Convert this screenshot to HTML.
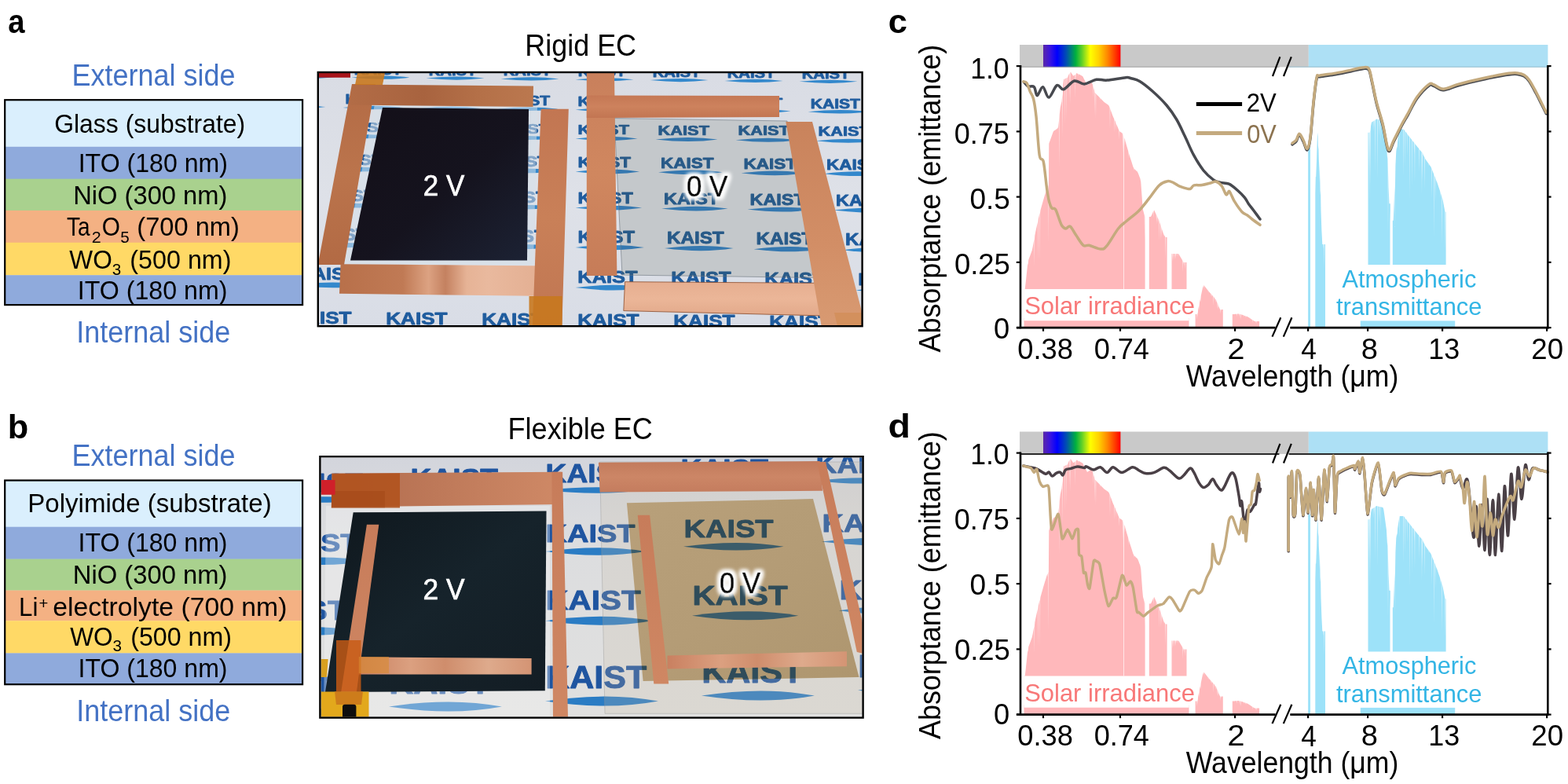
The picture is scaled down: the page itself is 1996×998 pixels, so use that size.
<!DOCTYPE html>
<html><head><meta charset="utf-8"><title>Electrochromic device figure</title>
<style>html,body{margin:0;padding:0;background:#fff;}svg{display:block;}
text{font-family:"Liberation Sans",sans-serif;}</style></head>
<body><svg width="1996" height="998" viewBox="0 0 1996 998">
<defs><clipPath id="cpa"><rect x="406.0" y="92.8" width="691.0" height="321.8"/></clipPath><linearGradient id="paperA" gradientUnits="userSpaceOnUse" x1="0" y1="92.8" x2="0" y2="414.6"><stop offset="0" stop-color="#d9dce4"/><stop offset="0.5" stop-color="#dee1e8"/><stop offset="1" stop-color="#d9dde6"/></linearGradient><linearGradient id="paperB" x1="0" y1="0" x2="0" y2="1"><stop offset="0" stop-color="#d3d5dc"/><stop offset="0.3" stop-color="#dcdddf"/><stop offset="1" stop-color="#e0e0df"/></linearGradient><linearGradient id="cuA" x1="0" y1="0" x2="1" y2="1"><stop offset="0" stop-color="#c9825a"/><stop offset="0.5" stop-color="#d4916a"/><stop offset="1" stop-color="#c47c55"/></linearGradient><linearGradient id="cuB" x1="0" y1="0" x2="1" y2="0"><stop offset="0" stop-color="#d39472"/><stop offset="0.3" stop-color="#e2aa8a"/><stop offset="0.5" stop-color="#d08a66"/><stop offset="0.75" stop-color="#dca080"/><stop offset="1" stop-color="#c98560"/></linearGradient><linearGradient id="cuV" x1="0" y1="0" x2="0" y2="1"><stop offset="0" stop-color="#c27a52"/><stop offset="0.5" stop-color="#cf8c66"/><stop offset="1" stop-color="#c47e58"/></linearGradient><linearGradient id="darkA" x1="0" y1="0" x2="1" y2="1"><stop offset="0" stop-color="#130f18"/><stop offset="0.55" stop-color="#15131e"/><stop offset="1" stop-color="#1c2234"/></linearGradient><linearGradient id="cuTop" x1="0" y1="0" x2="1" y2="0"><stop offset="0" stop-color="#b26c46"/><stop offset="0.4" stop-color="#a8633f"/><stop offset="0.7" stop-color="#b47048"/><stop offset="1" stop-color="#bb784f"/></linearGradient><linearGradient id="cuL" x1="0" y1="0" x2="0" y2="1"><stop offset="0" stop-color="#b36b45"/><stop offset="0.5" stop-color="#bb744c"/><stop offset="1" stop-color="#b26a44"/></linearGradient><linearGradient id="cuBot" x1="0" y1="0" x2="1" y2="0"><stop offset="0" stop-color="#b8704a"/><stop offset="0.3" stop-color="#c07a55"/><stop offset="0.42" stop-color="#dca282"/><stop offset="0.5" stop-color="#c48160"/><stop offset="0.6" stop-color="#e6b396"/><stop offset="0.7" stop-color="#e9b99e"/><stop offset="1" stop-color="#e2ad90"/></linearGradient><linearGradient id="cuRV" x1="0" y1="0" x2="0" y2="1"><stop offset="0" stop-color="#c27652"/><stop offset="0.5" stop-color="#c98058"/><stop offset="1" stop-color="#c07652"/></linearGradient><linearGradient id="cuRL" x1="0" y1="0" x2="0" y2="1"><stop offset="0" stop-color="#c9805c"/><stop offset="0.5" stop-color="#d0875f"/><stop offset="1" stop-color="#c67c58"/></linearGradient><linearGradient id="cuRT" x1="0" y1="0" x2="0" y2="1"><stop offset="0" stop-color="#c57855"/><stop offset="0.5" stop-color="#cd825d"/><stop offset="1" stop-color="#c27552"/></linearGradient><linearGradient id="cuRB" x1="0" y1="0" x2="0" y2="1"><stop offset="0" stop-color="#e6ae90"/><stop offset="0.5" stop-color="#ebb698"/><stop offset="1" stop-color="#e2a98a"/></linearGradient><linearGradient id="cuRS" x1="0" y1="0" x2="0" y2="1"><stop offset="0" stop-color="#c9835c"/><stop offset="0.6" stop-color="#d28e66"/><stop offset="1" stop-color="#d89a72"/></linearGradient><linearGradient id="cuBT" x1="0" y1="0" x2="1" y2="0"><stop offset="0" stop-color="#b06a4c"/><stop offset="0.5" stop-color="#bf7a5a"/><stop offset="1" stop-color="#cf8966"/></linearGradient><linearGradient id="cuBT2" x1="0" y1="0" x2="0" y2="1"><stop offset="0" stop-color="#c27a5c"/><stop offset="0.5" stop-color="#cc8666"/><stop offset="1" stop-color="#c47c5e"/></linearGradient><linearGradient id="cuBV" x1="0" y1="0" x2="0" y2="1"><stop offset="0" stop-color="#c77c5a"/><stop offset="1" stop-color="#cf8763"/></linearGradient><linearGradient id="cuBB" x1="0" y1="0" x2="1" y2="0"><stop offset="0" stop-color="#c98060"/><stop offset="0.3" stop-color="#dba080"/><stop offset="0.5" stop-color="#cf8d6c"/><stop offset="0.75" stop-color="#deaa8c"/><stop offset="1" stop-color="#d49474"/></linearGradient><filter id="glow" x="-30%" y="-30%" width="160%" height="160%"><feMorphology in="SourceAlpha" operator="dilate" radius="3.2" result="d"/><feGaussianBlur in="d" stdDeviation="2.6" result="b"/><feFlood flood-color="#fff"/><feComposite in2="b" operator="in" result="w"/><feMerge><feMergeNode in="w"/><feMergeNode in="w"/><feMergeNode in="SourceGraphic"/></feMerge></filter><clipPath id="cpgl"><polygon points="782.0,150.5 1002.0,154.0 1044.0,353.6 792.0,350.0"/></clipPath><clipPath id="cpb"><rect x="408.6" y="582.4" width="688.9999999999999" height="330.0"/></clipPath><clipPath id="cptan"><polygon points="797.9,640.3 1035.0,635.1 1093.5,862.0 818.6,867.1"/></clipPath><linearGradient id="tanG" x1="0" y1="0" x2="1" y2="1"><stop offset="0" stop-color="#b8a07a"/><stop offset="0.5" stop-color="#b49c76"/><stop offset="1" stop-color="#ae966f"/></linearGradient><linearGradient id="darkB" x1="0" y1="0" x2="1" y2="1"><stop offset="0" stop-color="#0f171d"/><stop offset="0.5" stop-color="#16232b"/><stop offset="1" stop-color="#131d24"/></linearGradient><linearGradient id="cuH" x1="0" y1="0" x2="0" y2="1"><stop offset="0" stop-color="#d8946e"/><stop offset="0.5" stop-color="#e0a080"/><stop offset="1" stop-color="#c9845e"/></linearGradient><linearGradient id="spec" x1="0" y1="0" x2="1" y2="0"><stop offset="0" stop-color="#5a28a8"/><stop offset="0.09" stop-color="#3a14e0"/><stop offset="0.18" stop-color="#0000ff"/><stop offset="0.3" stop-color="#0050b0"/><stop offset="0.36" stop-color="#00807a"/><stop offset="0.42" stop-color="#00b040"/><stop offset="0.5" stop-color="#60d028"/><stop offset="0.61" stop-color="#ffff00"/><stop offset="0.72" stop-color="#ffd000"/><stop offset="0.83" stop-color="#ff8800"/><stop offset="0.93" stop-color="#ff3a00"/><stop offset="1" stop-color="#ff0000"/></linearGradient></defs>
<rect width="1996" height="998" fill="#fff"/>
<text x="10.25" y="41.50" font-size="43.4" font-weight="bold" fill="#000" textLength="21.31" lengthAdjust="spacingAndGlyphs">a</text>
<text x="9.78" y="557.50" font-size="43.4" font-weight="bold" fill="#000" textLength="26.49" lengthAdjust="spacingAndGlyphs">b</text>
<text x="1130.86" y="41.80" font-size="42.5" font-weight="bold" fill="#000" textLength="24.20" lengthAdjust="spacingAndGlyphs">c</text>
<text x="1130.64" y="557.00" font-size="43.4" font-weight="bold" fill="#000" textLength="28.43" lengthAdjust="spacingAndGlyphs">d</text>
<rect x="6.2" y="127.2" width="378.9" height="59.9" fill="#DAEFFD"/>
<rect x="6.2" y="186.8" width="378.9" height="41.2" fill="#8FAADC"/>
<rect x="6.2" y="227.7" width="378.9" height="40.5" fill="#A9D18E"/>
<rect x="6.2" y="267.9" width="378.9" height="41.2" fill="#F4B183"/>
<rect x="6.2" y="308.8" width="378.9" height="41.7" fill="#FFD966"/>
<rect x="6.2" y="350.2" width="378.9" height="38.2" fill="#8FAADC"/>
<rect x="6.2" y="127.2" width="378.9" height="260.9" fill="none" stroke="#000" stroke-width="2.2"/>
<text x="91.52" y="108.90" font-size="38.4" fill="#4472C4" textLength="208.13" lengthAdjust="spacingAndGlyphs">External side</text>
<text x="97.16" y="435.90" font-size="38.4" fill="#4472C4" textLength="196.17" lengthAdjust="spacingAndGlyphs">Internal side</text>
<text x="69.20" y="169.20" font-size="33.0" fill="#000" textLength="243.02" lengthAdjust="spacingAndGlyphs">Glass (substrate)</text>
<text x="99.71" y="219.30" font-size="33.0" fill="#000" textLength="190.21" lengthAdjust="spacingAndGlyphs">ITO (180 nm)</text>
<text x="93.18" y="259.90" font-size="33.0" fill="#000" textLength="196.23" lengthAdjust="spacingAndGlyphs">NiO (300 nm)</text>
<text x="84.94" y="300.20" font-size="33.0" fill="#000" textLength="29.59" lengthAdjust="spacingAndGlyphs">Ta</text>
<text x="116.82" y="308.80" font-size="21" fill="#000" textLength="11.98" lengthAdjust="spacingAndGlyphs">2</text>
<text x="129.76" y="300.20" font-size="33.0" fill="#000" textLength="23.16" lengthAdjust="spacingAndGlyphs">O</text>
<text x="153.27" y="308.80" font-size="21" fill="#000" textLength="11.47" lengthAdjust="spacingAndGlyphs">5</text>
<text x="174.34" y="300.20" font-size="33.0" fill="#000" textLength="130.47" lengthAdjust="spacingAndGlyphs">(700 nm)</text>
<text x="88.34" y="341.80" font-size="33.0" fill="#000" textLength="54.43" lengthAdjust="spacingAndGlyphs">WO</text>
<text x="142.67" y="349.60" font-size="21" fill="#000" textLength="11.47" lengthAdjust="spacingAndGlyphs">3</text>
<text x="165.36" y="341.80" font-size="33.0" fill="#000" textLength="129.13" lengthAdjust="spacingAndGlyphs">(500 nm)</text>
<text x="98.81" y="381.40" font-size="33.0" fill="#000" textLength="190.62" lengthAdjust="spacingAndGlyphs">ITO (180 nm)</text>
<rect x="6.2" y="611.5" width="378.9" height="59.5" fill="#DAEFFD"/>
<rect x="6.2" y="670.7" width="378.9" height="41.2" fill="#8FAADC"/>
<rect x="6.2" y="711.6" width="378.9" height="40.2" fill="#A9D18E"/>
<rect x="6.2" y="751.5" width="378.9" height="39.0" fill="#F4B183"/>
<rect x="6.2" y="790.2" width="378.9" height="41.5" fill="#FFD966"/>
<rect x="6.2" y="831.4" width="378.9" height="40.1" fill="#8FAADC"/>
<rect x="6.2" y="611.5" width="378.9" height="259.7" fill="none" stroke="#000" stroke-width="2.2"/>
<text x="91.52" y="593.10" font-size="38.4" fill="#4472C4" textLength="208.13" lengthAdjust="spacingAndGlyphs">External side</text>
<text x="97.16" y="918.30" font-size="38.4" fill="#4472C4" textLength="196.17" lengthAdjust="spacingAndGlyphs">Internal side</text>
<text x="35.26" y="651.90" font-size="33.0" fill="#000" textLength="310.41" lengthAdjust="spacingAndGlyphs">Polyimide (substrate)</text>
<text x="99.52" y="702.40" font-size="33.0" fill="#000" textLength="190.00" lengthAdjust="spacingAndGlyphs">ITO (180 nm)</text>
<text x="92.78" y="743.10" font-size="33.0" fill="#000" textLength="196.74" lengthAdjust="spacingAndGlyphs">NiO (300 nm)</text>
<text x="24.10" y="783.70" font-size="33.0" fill="#000" textLength="24.34" lengthAdjust="spacingAndGlyphs">Li</text>
<text x="49.49" y="775.30" font-size="21" fill="#000" textLength="11.80" lengthAdjust="spacingAndGlyphs">+</text>
<text x="67.35" y="783.70" font-size="33.0" fill="#000" textLength="298.05" lengthAdjust="spacingAndGlyphs">electrolyte (700 nm)</text>
<text x="89.14" y="821.60" font-size="33.0" fill="#000" textLength="54.43" lengthAdjust="spacingAndGlyphs">WO</text>
<text x="143.47" y="829.40" font-size="21" fill="#000" textLength="11.47" lengthAdjust="spacingAndGlyphs">3</text>
<text x="166.17" y="821.60" font-size="33.0" fill="#000" textLength="128.92" lengthAdjust="spacingAndGlyphs">(500 nm)</text>
<text x="99.52" y="862.30" font-size="33.0" fill="#000" textLength="190.00" lengthAdjust="spacingAndGlyphs">ITO (180 nm)</text>
<text x="668.22" y="71.10" font-size="38.5" fill="#000" textLength="141.87" lengthAdjust="spacingAndGlyphs">Rigid EC</text>
<text x="646.62" y="559.10" font-size="38.2" fill="#000" textLength="184.15" lengthAdjust="spacingAndGlyphs">Flexible EC</text>
<g clip-path="url(#cpa)"><rect x="406.0" y="92.8" width="691.0" height="321.8" fill="url(#paperA)"/><text transform="translate(355.7,93.9) scale(0.2030,0.1634)" font-size="100" font-weight="bold" fill="#1f5c9e" stroke="#1f5c9e" stroke-width="0.9" vector-effect="non-scaling-stroke" stroke-linejoin="round">KAIST</text><path d="M352.5,97.9 Q393.2,93.6 426.5,97.9 Q393.2,102.1 352.5,97.9Z" fill="#3388cc"/><text transform="translate(450.7,94.7) scale(0.2030,0.1634)" font-size="100" font-weight="bold" fill="#1f5c9e" stroke="#1f5c9e" stroke-width="0.9" vector-effect="non-scaling-stroke" stroke-linejoin="round">KAIST</text><path d="M447.5,98.7 Q488.2,94.5 521.5,98.7 Q488.2,103.0 447.5,98.7Z" fill="#3388cc"/><text transform="translate(545.7,95.6) scale(0.2030,0.1634)" font-size="100" font-weight="bold" fill="#1f5c9e" stroke="#1f5c9e" stroke-width="0.9" vector-effect="non-scaling-stroke" stroke-linejoin="round">KAIST</text><path d="M542.5,99.6 Q583.2,95.3 616.5,99.6 Q583.2,103.8 542.5,99.6Z" fill="#3388cc"/><text transform="translate(640.7,96.4) scale(0.2030,0.1634)" font-size="100" font-weight="bold" fill="#1f5c9e" stroke="#1f5c9e" stroke-width="0.9" vector-effect="non-scaling-stroke" stroke-linejoin="round">KAIST</text><path d="M637.5,100.4 Q678.2,96.2 711.5,100.4 Q678.2,104.7 637.5,100.4Z" fill="#3388cc"/><text transform="translate(735.7,97.3) scale(0.2030,0.1634)" font-size="100" font-weight="bold" fill="#1f5c9e" stroke="#1f5c9e" stroke-width="0.9" vector-effect="non-scaling-stroke" stroke-linejoin="round">KAIST</text><path d="M732.5,101.3 Q773.2,97.0 806.5,101.3 Q773.2,105.5 732.5,101.3Z" fill="#3388cc"/><text transform="translate(830.7,98.1) scale(0.2030,0.1634)" font-size="100" font-weight="bold" fill="#1f5c9e" stroke="#1f5c9e" stroke-width="0.9" vector-effect="non-scaling-stroke" stroke-linejoin="round">KAIST</text><path d="M827.5,102.1 Q868.2,97.9 901.5,102.1 Q868.2,106.4 827.5,102.1Z" fill="#3388cc"/><text transform="translate(925.7,99.0) scale(0.2030,0.1634)" font-size="100" font-weight="bold" fill="#1f5c9e" stroke="#1f5c9e" stroke-width="0.9" vector-effect="non-scaling-stroke" stroke-linejoin="round">KAIST</text><path d="M922.5,103.0 Q963.2,98.7 996.5,103.0 Q963.2,107.2 922.5,103.0Z" fill="#3388cc"/><text transform="translate(1020.7,99.8) scale(0.2030,0.1634)" font-size="100" font-weight="bold" fill="#1f5c9e" stroke="#1f5c9e" stroke-width="0.9" vector-effect="non-scaling-stroke" stroke-linejoin="round">KAIST</text><path d="M1017.5,103.8 Q1058.2,99.6 1091.5,103.8 Q1058.2,108.1 1017.5,103.8Z" fill="#3388cc"/><text transform="translate(340.8,131.5) scale(0.2109,0.1620)" font-size="100" font-weight="bold" fill="#1f5c9e" stroke="#1f5c9e" stroke-width="0.9" vector-effect="non-scaling-stroke" stroke-linejoin="round">KAIST</text><path d="M337.7,136.1 Q379.9,131.6 414.4,136.1 Q379.9,140.6 337.7,136.1Z" fill="#3388cc"/><text transform="translate(439.5,132.4) scale(0.2109,0.1620)" font-size="100" font-weight="bold" fill="#1f5c9e" stroke="#1f5c9e" stroke-width="0.9" vector-effect="non-scaling-stroke" stroke-linejoin="round">KAIST</text><path d="M436.4,137.0 Q478.6,132.5 513.1,137.0 Q478.6,141.5 436.4,137.0Z" fill="#3388cc"/><text transform="translate(538.2,133.3) scale(0.2109,0.1620)" font-size="100" font-weight="bold" fill="#1f5c9e" stroke="#1f5c9e" stroke-width="0.9" vector-effect="non-scaling-stroke" stroke-linejoin="round">KAIST</text><path d="M535.1,137.9 Q577.3,133.4 611.8,137.9 Q577.3,142.4 535.1,137.9Z" fill="#3388cc"/><text transform="translate(636.9,134.2) scale(0.2109,0.1620)" font-size="100" font-weight="bold" fill="#1f5c9e" stroke="#1f5c9e" stroke-width="0.9" vector-effect="non-scaling-stroke" stroke-linejoin="round">KAIST</text><path d="M633.8,138.8 Q676.0,134.3 710.5,138.8 Q676.0,143.3 633.8,138.8Z" fill="#3388cc"/><text transform="translate(735.6,135.1) scale(0.2109,0.1620)" font-size="100" font-weight="bold" fill="#1f5c9e" stroke="#1f5c9e" stroke-width="0.9" vector-effect="non-scaling-stroke" stroke-linejoin="round">KAIST</text><path d="M732.5,139.7 Q774.7,135.2 809.2,139.7 Q774.7,144.2 732.5,139.7Z" fill="#3388cc"/><text transform="translate(834.3,136.0) scale(0.2109,0.1620)" font-size="100" font-weight="bold" fill="#1f5c9e" stroke="#1f5c9e" stroke-width="0.9" vector-effect="non-scaling-stroke" stroke-linejoin="round">KAIST</text><path d="M831.2,140.6 Q873.4,136.1 907.9,140.6 Q873.4,145.1 831.2,140.6Z" fill="#3388cc"/><text transform="translate(933.0,136.9) scale(0.2109,0.1620)" font-size="100" font-weight="bold" fill="#1f5c9e" stroke="#1f5c9e" stroke-width="0.9" vector-effect="non-scaling-stroke" stroke-linejoin="round">KAIST</text><path d="M929.9,141.5 Q972.1,137.0 1006.6,141.5 Q972.1,146.0 929.9,141.5Z" fill="#3388cc"/><text transform="translate(1031.7,137.7) scale(0.2109,0.1620)" font-size="100" font-weight="bold" fill="#1f5c9e" stroke="#1f5c9e" stroke-width="0.9" vector-effect="non-scaling-stroke" stroke-linejoin="round">KAIST</text><path d="M1028.6,142.3 Q1070.8,137.8 1105.3,142.3 Q1070.8,146.8 1028.6,142.3Z" fill="#3388cc"/><text transform="translate(429.6,167.8) scale(0.2179,0.1563)" font-size="100" font-weight="bold" fill="#1f5c9e" stroke="#1f5c9e" stroke-width="0.9" vector-effect="non-scaling-stroke" stroke-linejoin="round">KAIST</text><path d="M426.5,173.7 Q470.0,168.7 505.6,173.7 Q470.0,178.7 426.5,173.7Z" fill="#3388cc"/><text transform="translate(531.6,168.8) scale(0.2179,0.1563)" font-size="100" font-weight="bold" fill="#1f5c9e" stroke="#1f5c9e" stroke-width="0.9" vector-effect="non-scaling-stroke" stroke-linejoin="round">KAIST</text><path d="M528.5,174.7 Q572.0,169.7 607.6,174.7 Q572.0,179.7 528.5,174.7Z" fill="#3388cc"/><text transform="translate(633.6,169.7) scale(0.2179,0.1563)" font-size="100" font-weight="bold" fill="#1f5c9e" stroke="#1f5c9e" stroke-width="0.9" vector-effect="non-scaling-stroke" stroke-linejoin="round">KAIST</text><path d="M630.5,175.6 Q674.0,170.6 709.6,175.6 Q674.0,180.6 630.5,175.6Z" fill="#3388cc"/><text transform="translate(735.6,170.6) scale(0.2179,0.1563)" font-size="100" font-weight="bold" fill="#1f5c9e" stroke="#1f5c9e" stroke-width="0.9" vector-effect="non-scaling-stroke" stroke-linejoin="round">KAIST</text><path d="M732.5,176.5 Q776.0,171.5 811.6,176.5 Q776.0,181.5 732.5,176.5Z" fill="#3388cc"/><text transform="translate(837.6,171.5) scale(0.2179,0.1563)" font-size="100" font-weight="bold" fill="#1f5c9e" stroke="#1f5c9e" stroke-width="0.9" vector-effect="non-scaling-stroke" stroke-linejoin="round">KAIST</text><path d="M834.5,177.4 Q878.0,172.4 913.6,177.4 Q878.0,182.4 834.5,177.4Z" fill="#3388cc"/><text transform="translate(939.6,172.4) scale(0.2179,0.1563)" font-size="100" font-weight="bold" fill="#1f5c9e" stroke="#1f5c9e" stroke-width="0.9" vector-effect="non-scaling-stroke" stroke-linejoin="round">KAIST</text><path d="M936.5,178.3 Q980.0,173.3 1015.6,178.3 Q980.0,183.3 936.5,178.3Z" fill="#3388cc"/><text transform="translate(1041.6,173.3) scale(0.2179,0.1563)" font-size="100" font-weight="bold" fill="#1f5c9e" stroke="#1f5c9e" stroke-width="0.9" vector-effect="non-scaling-stroke" stroke-linejoin="round">KAIST</text><path d="M1038.5,179.2 Q1082.0,174.2 1117.6,179.2 Q1082.0,184.2 1038.5,179.2Z" fill="#3388cc"/><text transform="translate(419.0,210.1) scale(0.2254,0.1831)" font-size="100" font-weight="bold" fill="#1f5c9e" stroke="#1f5c9e" stroke-width="0.9" vector-effect="non-scaling-stroke" stroke-linejoin="round">KAIST</text><path d="M416.0,215.6 Q460.9,209.8 497.6,215.6 Q460.9,221.3 416.0,215.6Z" fill="#3388cc"/><text transform="translate(524.5,211.0) scale(0.2254,0.1831)" font-size="100" font-weight="bold" fill="#1f5c9e" stroke="#1f5c9e" stroke-width="0.9" vector-effect="non-scaling-stroke" stroke-linejoin="round">KAIST</text><path d="M521.5,216.5 Q566.4,210.8 603.1,216.5 Q566.4,222.3 521.5,216.5Z" fill="#3388cc"/><text transform="translate(630.0,212.0) scale(0.2254,0.1831)" font-size="100" font-weight="bold" fill="#1f5c9e" stroke="#1f5c9e" stroke-width="0.9" vector-effect="non-scaling-stroke" stroke-linejoin="round">KAIST</text><path d="M627.0,217.5 Q671.9,211.7 708.6,217.5 Q671.9,223.2 627.0,217.5Z" fill="#3388cc"/><text transform="translate(735.5,212.9) scale(0.2254,0.1831)" font-size="100" font-weight="bold" fill="#1f5c9e" stroke="#1f5c9e" stroke-width="0.9" vector-effect="non-scaling-stroke" stroke-linejoin="round">KAIST</text><path d="M732.5,218.4 Q777.4,212.6 814.1,218.4 Q777.4,224.1 732.5,218.4Z" fill="#3388cc"/><text transform="translate(841.0,213.8) scale(0.2254,0.1831)" font-size="100" font-weight="bold" fill="#1f5c9e" stroke="#1f5c9e" stroke-width="0.9" vector-effect="non-scaling-stroke" stroke-linejoin="round">KAIST</text><path d="M838.0,219.3 Q882.9,213.6 919.6,219.3 Q882.9,225.1 838.0,219.3Z" fill="#3388cc"/><text transform="translate(946.5,214.8) scale(0.2254,0.1831)" font-size="100" font-weight="bold" fill="#1f5c9e" stroke="#1f5c9e" stroke-width="0.9" vector-effect="non-scaling-stroke" stroke-linejoin="round">KAIST</text><path d="M943.5,220.3 Q988.4,214.5 1025.1,220.3 Q988.4,226.0 943.5,220.3Z" fill="#3388cc"/><text transform="translate(1052.0,215.7) scale(0.2254,0.1831)" font-size="100" font-weight="bold" fill="#1f5c9e" stroke="#1f5c9e" stroke-width="0.9" vector-effect="non-scaling-stroke" stroke-linejoin="round">KAIST</text><path d="M1049.0,221.2 Q1093.9,215.5 1130.6,221.2 Q1093.9,227.0 1049.0,221.2Z" fill="#3388cc"/><text transform="translate(407.0,256.2) scale(0.2340,0.2014)" font-size="100" font-weight="bold" fill="#1f5c9e" stroke="#1f5c9e" stroke-width="0.9" vector-effect="non-scaling-stroke" stroke-linejoin="round">KAIST</text><path d="M404.0,261.7 Q450.5,255.8 488.6,261.7 Q450.5,267.5 404.0,261.7Z" fill="#3388cc"/><text transform="translate(516.5,257.1) scale(0.2340,0.2014)" font-size="100" font-weight="bold" fill="#1f5c9e" stroke="#1f5c9e" stroke-width="0.9" vector-effect="non-scaling-stroke" stroke-linejoin="round">KAIST</text><path d="M513.5,262.6 Q560.0,256.8 598.1,262.6 Q560.0,268.5 513.5,262.6Z" fill="#3388cc"/><text transform="translate(626.0,258.1) scale(0.2340,0.2014)" font-size="100" font-weight="bold" fill="#1f5c9e" stroke="#1f5c9e" stroke-width="0.9" vector-effect="non-scaling-stroke" stroke-linejoin="round">KAIST</text><path d="M623.0,263.6 Q669.5,257.8 707.6,263.6 Q669.5,269.5 623.0,263.6Z" fill="#3388cc"/><text transform="translate(735.5,259.1) scale(0.2340,0.2014)" font-size="100" font-weight="bold" fill="#1f5c9e" stroke="#1f5c9e" stroke-width="0.9" vector-effect="non-scaling-stroke" stroke-linejoin="round">KAIST</text><path d="M732.5,264.6 Q779.0,258.7 817.1,264.6 Q779.0,270.5 732.5,264.6Z" fill="#3388cc"/><text transform="translate(845.0,260.1) scale(0.2340,0.2014)" font-size="100" font-weight="bold" fill="#1f5c9e" stroke="#1f5c9e" stroke-width="0.9" vector-effect="non-scaling-stroke" stroke-linejoin="round">KAIST</text><path d="M842.0,265.6 Q888.5,259.7 926.6,265.6 Q888.5,271.5 842.0,265.6Z" fill="#3388cc"/><text transform="translate(954.5,261.1) scale(0.2340,0.2014)" font-size="100" font-weight="bold" fill="#1f5c9e" stroke="#1f5c9e" stroke-width="0.9" vector-effect="non-scaling-stroke" stroke-linejoin="round">KAIST</text><path d="M951.5,266.6 Q998.0,260.7 1036.1,266.6 Q998.0,272.5 951.5,266.6Z" fill="#3388cc"/><text transform="translate(1064.0,262.1) scale(0.2340,0.2014)" font-size="100" font-weight="bold" fill="#1f5c9e" stroke="#1f5c9e" stroke-width="0.9" vector-effect="non-scaling-stroke" stroke-linejoin="round">KAIST</text><path d="M1061.0,267.6 Q1107.5,261.7 1145.6,267.6 Q1107.5,273.4 1061.0,267.6Z" fill="#3388cc"/><text transform="translate(394.9,305.6) scale(0.2425,0.2183)" font-size="100" font-weight="bold" fill="#1f5c9e" stroke="#1f5c9e" stroke-width="0.9" vector-effect="non-scaling-stroke" stroke-linejoin="round">KAIST</text><path d="M392.0,312.1 Q440.1,305.8 479.5,312.1 Q440.1,318.3 392.0,312.1Z" fill="#3388cc"/><text transform="translate(508.4,306.6) scale(0.2425,0.2183)" font-size="100" font-weight="bold" fill="#1f5c9e" stroke="#1f5c9e" stroke-width="0.9" vector-effect="non-scaling-stroke" stroke-linejoin="round">KAIST</text><path d="M505.5,313.1 Q553.6,306.8 593.0,313.1 Q553.6,319.3 505.5,313.1Z" fill="#3388cc"/><text transform="translate(621.9,307.6) scale(0.2425,0.2183)" font-size="100" font-weight="bold" fill="#1f5c9e" stroke="#1f5c9e" stroke-width="0.9" vector-effect="non-scaling-stroke" stroke-linejoin="round">KAIST</text><path d="M619.0,314.1 Q667.1,307.9 706.5,314.1 Q667.1,320.4 619.0,314.1Z" fill="#3388cc"/><text transform="translate(735.4,308.6) scale(0.2425,0.2183)" font-size="100" font-weight="bold" fill="#1f5c9e" stroke="#1f5c9e" stroke-width="0.9" vector-effect="non-scaling-stroke" stroke-linejoin="round">KAIST</text><path d="M732.5,315.1 Q780.6,308.9 820.0,315.1 Q780.6,321.4 732.5,315.1Z" fill="#3388cc"/><text transform="translate(848.9,309.6) scale(0.2425,0.2183)" font-size="100" font-weight="bold" fill="#1f5c9e" stroke="#1f5c9e" stroke-width="0.9" vector-effect="non-scaling-stroke" stroke-linejoin="round">KAIST</text><path d="M846.0,316.1 Q894.1,309.9 933.5,316.1 Q894.1,322.4 846.0,316.1Z" fill="#3388cc"/><text transform="translate(962.4,310.7) scale(0.2425,0.2183)" font-size="100" font-weight="bold" fill="#1f5c9e" stroke="#1f5c9e" stroke-width="0.9" vector-effect="non-scaling-stroke" stroke-linejoin="round">KAIST</text><path d="M959.5,317.2 Q1007.6,310.9 1047.0,317.2 Q1007.6,323.4 959.5,317.2Z" fill="#3388cc"/><text transform="translate(1075.9,311.7) scale(0.2425,0.2183)" font-size="100" font-weight="bold" fill="#1f5c9e" stroke="#1f5c9e" stroke-width="0.9" vector-effect="non-scaling-stroke" stroke-linejoin="round">KAIST</text><path d="M1073.0,318.2 Q1121.1,311.9 1160.5,318.2 Q1121.1,324.4 1073.0,318.2Z" fill="#3388cc"/><text transform="translate(378.3,356.3) scale(0.2543,0.2141)" font-size="100" font-weight="bold" fill="#1f5c9e" stroke="#1f5c9e" stroke-width="0.9" vector-effect="non-scaling-stroke" stroke-linejoin="round">KAIST</text><path d="M375.5,362.9 Q425.8,356.0 467.0,362.9 Q425.8,369.8 375.5,362.9Z" fill="#3388cc"/><text transform="translate(497.3,357.4) scale(0.2543,0.2141)" font-size="100" font-weight="bold" fill="#1f5c9e" stroke="#1f5c9e" stroke-width="0.9" vector-effect="non-scaling-stroke" stroke-linejoin="round">KAIST</text><path d="M494.5,364.0 Q544.8,357.1 586.0,364.0 Q544.8,370.9 494.5,364.0Z" fill="#3388cc"/><text transform="translate(616.3,358.5) scale(0.2543,0.2141)" font-size="100" font-weight="bold" fill="#1f5c9e" stroke="#1f5c9e" stroke-width="0.9" vector-effect="non-scaling-stroke" stroke-linejoin="round">KAIST</text><path d="M613.5,365.1 Q663.8,358.2 705.0,365.1 Q663.8,371.9 613.5,365.1Z" fill="#3388cc"/><text transform="translate(735.3,359.5) scale(0.2543,0.2141)" font-size="100" font-weight="bold" fill="#1f5c9e" stroke="#1f5c9e" stroke-width="0.9" vector-effect="non-scaling-stroke" stroke-linejoin="round">KAIST</text><path d="M732.5,366.1 Q782.8,359.3 824.0,366.1 Q782.8,373.0 732.5,366.1Z" fill="#3388cc"/><text transform="translate(854.3,360.6) scale(0.2543,0.2141)" font-size="100" font-weight="bold" fill="#1f5c9e" stroke="#1f5c9e" stroke-width="0.9" vector-effect="non-scaling-stroke" stroke-linejoin="round">KAIST</text><path d="M851.5,367.2 Q901.8,360.3 943.0,367.2 Q901.8,374.1 851.5,367.2Z" fill="#3388cc"/><text transform="translate(973.3,361.7) scale(0.2543,0.2141)" font-size="100" font-weight="bold" fill="#1f5c9e" stroke="#1f5c9e" stroke-width="0.9" vector-effect="non-scaling-stroke" stroke-linejoin="round">KAIST</text><path d="M970.5,368.3 Q1020.8,361.4 1062.0,368.3 Q1020.8,375.2 970.5,368.3Z" fill="#3388cc"/><text transform="translate(1092.3,362.8) scale(0.2543,0.2141)" font-size="100" font-weight="bold" fill="#1f5c9e" stroke="#1f5c9e" stroke-width="0.9" vector-effect="non-scaling-stroke" stroke-linejoin="round">KAIST</text><path d="M1089.5,369.4 Q1139.8,362.5 1181.0,369.4 Q1139.8,376.2 1089.5,369.4Z" fill="#3388cc"/><text transform="translate(369.3,411.9) scale(0.2607,0.2155)" font-size="100" font-weight="bold" fill="#1f5c9e" stroke="#1f5c9e" stroke-width="0.9" vector-effect="non-scaling-stroke" stroke-linejoin="round">KAIST</text><path d="M366.5,418.9 Q418.0,411.4 460.2,418.9 Q418.0,426.4 366.5,418.9Z" fill="#3388cc"/><text transform="translate(491.3,413.0) scale(0.2607,0.2155)" font-size="100" font-weight="bold" fill="#1f5c9e" stroke="#1f5c9e" stroke-width="0.9" vector-effect="non-scaling-stroke" stroke-linejoin="round">KAIST</text><path d="M488.5,420.0 Q540.0,412.5 582.2,420.0 Q540.0,427.5 488.5,420.0Z" fill="#3388cc"/><text transform="translate(613.3,414.0) scale(0.2607,0.2155)" font-size="100" font-weight="bold" fill="#1f5c9e" stroke="#1f5c9e" stroke-width="0.9" vector-effect="non-scaling-stroke" stroke-linejoin="round">KAIST</text><path d="M610.5,421.0 Q662.0,413.5 704.2,421.0 Q662.0,428.5 610.5,421.0Z" fill="#3388cc"/><text transform="translate(735.3,415.1) scale(0.2607,0.2155)" font-size="100" font-weight="bold" fill="#1f5c9e" stroke="#1f5c9e" stroke-width="0.9" vector-effect="non-scaling-stroke" stroke-linejoin="round">KAIST</text><path d="M732.5,422.1 Q784.0,414.6 826.2,422.1 Q784.0,429.6 732.5,422.1Z" fill="#3388cc"/><text transform="translate(857.3,416.2) scale(0.2607,0.2155)" font-size="100" font-weight="bold" fill="#1f5c9e" stroke="#1f5c9e" stroke-width="0.9" vector-effect="non-scaling-stroke" stroke-linejoin="round">KAIST</text><path d="M854.5,423.2 Q906.0,415.7 948.2,423.2 Q906.0,430.7 854.5,423.2Z" fill="#3388cc"/><text transform="translate(979.3,417.3) scale(0.2607,0.2155)" font-size="100" font-weight="bold" fill="#1f5c9e" stroke="#1f5c9e" stroke-width="0.9" vector-effect="non-scaling-stroke" stroke-linejoin="round">KAIST</text><path d="M976.5,424.3 Q1028.0,416.8 1070.2,424.3 Q1028.0,431.8 976.5,424.3Z" fill="#3388cc"/><polygon points="782.0,150.5 1002.0,154.0 1044.0,353.6 792.0,350.0" fill="#c4c8cb"/><g clip-path="url(#cpgl)"><text transform="translate(355.7,93.9) scale(0.2030,0.1634)" font-size="100" font-weight="bold" fill="#285a88" stroke="#285a88" stroke-width="0.9" vector-effect="non-scaling-stroke" stroke-linejoin="round">KAIST</text><path d="M352.5,97.9 Q393.2,93.6 426.5,97.9 Q393.2,102.1 352.5,97.9Z" fill="#3578b0"/><text transform="translate(450.7,94.7) scale(0.2030,0.1634)" font-size="100" font-weight="bold" fill="#285a88" stroke="#285a88" stroke-width="0.9" vector-effect="non-scaling-stroke" stroke-linejoin="round">KAIST</text><path d="M447.5,98.7 Q488.2,94.5 521.5,98.7 Q488.2,103.0 447.5,98.7Z" fill="#3578b0"/><text transform="translate(545.7,95.6) scale(0.2030,0.1634)" font-size="100" font-weight="bold" fill="#285a88" stroke="#285a88" stroke-width="0.9" vector-effect="non-scaling-stroke" stroke-linejoin="round">KAIST</text><path d="M542.5,99.6 Q583.2,95.3 616.5,99.6 Q583.2,103.8 542.5,99.6Z" fill="#3578b0"/><text transform="translate(640.7,96.4) scale(0.2030,0.1634)" font-size="100" font-weight="bold" fill="#285a88" stroke="#285a88" stroke-width="0.9" vector-effect="non-scaling-stroke" stroke-linejoin="round">KAIST</text><path d="M637.5,100.4 Q678.2,96.2 711.5,100.4 Q678.2,104.7 637.5,100.4Z" fill="#3578b0"/><text transform="translate(735.7,97.3) scale(0.2030,0.1634)" font-size="100" font-weight="bold" fill="#285a88" stroke="#285a88" stroke-width="0.9" vector-effect="non-scaling-stroke" stroke-linejoin="round">KAIST</text><path d="M732.5,101.3 Q773.2,97.0 806.5,101.3 Q773.2,105.5 732.5,101.3Z" fill="#3578b0"/><text transform="translate(830.7,98.1) scale(0.2030,0.1634)" font-size="100" font-weight="bold" fill="#285a88" stroke="#285a88" stroke-width="0.9" vector-effect="non-scaling-stroke" stroke-linejoin="round">KAIST</text><path d="M827.5,102.1 Q868.2,97.9 901.5,102.1 Q868.2,106.4 827.5,102.1Z" fill="#3578b0"/><text transform="translate(925.7,99.0) scale(0.2030,0.1634)" font-size="100" font-weight="bold" fill="#285a88" stroke="#285a88" stroke-width="0.9" vector-effect="non-scaling-stroke" stroke-linejoin="round">KAIST</text><path d="M922.5,103.0 Q963.2,98.7 996.5,103.0 Q963.2,107.2 922.5,103.0Z" fill="#3578b0"/><text transform="translate(1020.7,99.8) scale(0.2030,0.1634)" font-size="100" font-weight="bold" fill="#285a88" stroke="#285a88" stroke-width="0.9" vector-effect="non-scaling-stroke" stroke-linejoin="round">KAIST</text><path d="M1017.5,103.8 Q1058.2,99.6 1091.5,103.8 Q1058.2,108.1 1017.5,103.8Z" fill="#3578b0"/><text transform="translate(340.8,131.5) scale(0.2109,0.1620)" font-size="100" font-weight="bold" fill="#285a88" stroke="#285a88" stroke-width="0.9" vector-effect="non-scaling-stroke" stroke-linejoin="round">KAIST</text><path d="M337.7,136.1 Q379.9,131.6 414.4,136.1 Q379.9,140.6 337.7,136.1Z" fill="#3578b0"/><text transform="translate(439.5,132.4) scale(0.2109,0.1620)" font-size="100" font-weight="bold" fill="#285a88" stroke="#285a88" stroke-width="0.9" vector-effect="non-scaling-stroke" stroke-linejoin="round">KAIST</text><path d="M436.4,137.0 Q478.6,132.5 513.1,137.0 Q478.6,141.5 436.4,137.0Z" fill="#3578b0"/><text transform="translate(538.2,133.3) scale(0.2109,0.1620)" font-size="100" font-weight="bold" fill="#285a88" stroke="#285a88" stroke-width="0.9" vector-effect="non-scaling-stroke" stroke-linejoin="round">KAIST</text><path d="M535.1,137.9 Q577.3,133.4 611.8,137.9 Q577.3,142.4 535.1,137.9Z" fill="#3578b0"/><text transform="translate(636.9,134.2) scale(0.2109,0.1620)" font-size="100" font-weight="bold" fill="#285a88" stroke="#285a88" stroke-width="0.9" vector-effect="non-scaling-stroke" stroke-linejoin="round">KAIST</text><path d="M633.8,138.8 Q676.0,134.3 710.5,138.8 Q676.0,143.3 633.8,138.8Z" fill="#3578b0"/><text transform="translate(735.6,135.1) scale(0.2109,0.1620)" font-size="100" font-weight="bold" fill="#285a88" stroke="#285a88" stroke-width="0.9" vector-effect="non-scaling-stroke" stroke-linejoin="round">KAIST</text><path d="M732.5,139.7 Q774.7,135.2 809.2,139.7 Q774.7,144.2 732.5,139.7Z" fill="#3578b0"/><text transform="translate(834.3,136.0) scale(0.2109,0.1620)" font-size="100" font-weight="bold" fill="#285a88" stroke="#285a88" stroke-width="0.9" vector-effect="non-scaling-stroke" stroke-linejoin="round">KAIST</text><path d="M831.2,140.6 Q873.4,136.1 907.9,140.6 Q873.4,145.1 831.2,140.6Z" fill="#3578b0"/><text transform="translate(933.0,136.9) scale(0.2109,0.1620)" font-size="100" font-weight="bold" fill="#285a88" stroke="#285a88" stroke-width="0.9" vector-effect="non-scaling-stroke" stroke-linejoin="round">KAIST</text><path d="M929.9,141.5 Q972.1,137.0 1006.6,141.5 Q972.1,146.0 929.9,141.5Z" fill="#3578b0"/><text transform="translate(1031.7,137.7) scale(0.2109,0.1620)" font-size="100" font-weight="bold" fill="#285a88" stroke="#285a88" stroke-width="0.9" vector-effect="non-scaling-stroke" stroke-linejoin="round">KAIST</text><path d="M1028.6,142.3 Q1070.8,137.8 1105.3,142.3 Q1070.8,146.8 1028.6,142.3Z" fill="#3578b0"/><text transform="translate(429.6,167.8) scale(0.2179,0.1563)" font-size="100" font-weight="bold" fill="#285a88" stroke="#285a88" stroke-width="0.9" vector-effect="non-scaling-stroke" stroke-linejoin="round">KAIST</text><path d="M426.5,173.7 Q470.0,168.7 505.6,173.7 Q470.0,178.7 426.5,173.7Z" fill="#3578b0"/><text transform="translate(531.6,168.8) scale(0.2179,0.1563)" font-size="100" font-weight="bold" fill="#285a88" stroke="#285a88" stroke-width="0.9" vector-effect="non-scaling-stroke" stroke-linejoin="round">KAIST</text><path d="M528.5,174.7 Q572.0,169.7 607.6,174.7 Q572.0,179.7 528.5,174.7Z" fill="#3578b0"/><text transform="translate(633.6,169.7) scale(0.2179,0.1563)" font-size="100" font-weight="bold" fill="#285a88" stroke="#285a88" stroke-width="0.9" vector-effect="non-scaling-stroke" stroke-linejoin="round">KAIST</text><path d="M630.5,175.6 Q674.0,170.6 709.6,175.6 Q674.0,180.6 630.5,175.6Z" fill="#3578b0"/><text transform="translate(735.6,170.6) scale(0.2179,0.1563)" font-size="100" font-weight="bold" fill="#285a88" stroke="#285a88" stroke-width="0.9" vector-effect="non-scaling-stroke" stroke-linejoin="round">KAIST</text><path d="M732.5,176.5 Q776.0,171.5 811.6,176.5 Q776.0,181.5 732.5,176.5Z" fill="#3578b0"/><text transform="translate(837.6,171.5) scale(0.2179,0.1563)" font-size="100" font-weight="bold" fill="#285a88" stroke="#285a88" stroke-width="0.9" vector-effect="non-scaling-stroke" stroke-linejoin="round">KAIST</text><path d="M834.5,177.4 Q878.0,172.4 913.6,177.4 Q878.0,182.4 834.5,177.4Z" fill="#3578b0"/><text transform="translate(939.6,172.4) scale(0.2179,0.1563)" font-size="100" font-weight="bold" fill="#285a88" stroke="#285a88" stroke-width="0.9" vector-effect="non-scaling-stroke" stroke-linejoin="round">KAIST</text><path d="M936.5,178.3 Q980.0,173.3 1015.6,178.3 Q980.0,183.3 936.5,178.3Z" fill="#3578b0"/><text transform="translate(1041.6,173.3) scale(0.2179,0.1563)" font-size="100" font-weight="bold" fill="#285a88" stroke="#285a88" stroke-width="0.9" vector-effect="non-scaling-stroke" stroke-linejoin="round">KAIST</text><path d="M1038.5,179.2 Q1082.0,174.2 1117.6,179.2 Q1082.0,184.2 1038.5,179.2Z" fill="#3578b0"/><text transform="translate(419.0,210.1) scale(0.2254,0.1831)" font-size="100" font-weight="bold" fill="#285a88" stroke="#285a88" stroke-width="0.9" vector-effect="non-scaling-stroke" stroke-linejoin="round">KAIST</text><path d="M416.0,215.6 Q460.9,209.8 497.6,215.6 Q460.9,221.3 416.0,215.6Z" fill="#3578b0"/><text transform="translate(524.5,211.0) scale(0.2254,0.1831)" font-size="100" font-weight="bold" fill="#285a88" stroke="#285a88" stroke-width="0.9" vector-effect="non-scaling-stroke" stroke-linejoin="round">KAIST</text><path d="M521.5,216.5 Q566.4,210.8 603.1,216.5 Q566.4,222.3 521.5,216.5Z" fill="#3578b0"/><text transform="translate(630.0,212.0) scale(0.2254,0.1831)" font-size="100" font-weight="bold" fill="#285a88" stroke="#285a88" stroke-width="0.9" vector-effect="non-scaling-stroke" stroke-linejoin="round">KAIST</text><path d="M627.0,217.5 Q671.9,211.7 708.6,217.5 Q671.9,223.2 627.0,217.5Z" fill="#3578b0"/><text transform="translate(735.5,212.9) scale(0.2254,0.1831)" font-size="100" font-weight="bold" fill="#285a88" stroke="#285a88" stroke-width="0.9" vector-effect="non-scaling-stroke" stroke-linejoin="round">KAIST</text><path d="M732.5,218.4 Q777.4,212.6 814.1,218.4 Q777.4,224.1 732.5,218.4Z" fill="#3578b0"/><text transform="translate(841.0,213.8) scale(0.2254,0.1831)" font-size="100" font-weight="bold" fill="#285a88" stroke="#285a88" stroke-width="0.9" vector-effect="non-scaling-stroke" stroke-linejoin="round">KAIST</text><path d="M838.0,219.3 Q882.9,213.6 919.6,219.3 Q882.9,225.1 838.0,219.3Z" fill="#3578b0"/><text transform="translate(946.5,214.8) scale(0.2254,0.1831)" font-size="100" font-weight="bold" fill="#285a88" stroke="#285a88" stroke-width="0.9" vector-effect="non-scaling-stroke" stroke-linejoin="round">KAIST</text><path d="M943.5,220.3 Q988.4,214.5 1025.1,220.3 Q988.4,226.0 943.5,220.3Z" fill="#3578b0"/><text transform="translate(1052.0,215.7) scale(0.2254,0.1831)" font-size="100" font-weight="bold" fill="#285a88" stroke="#285a88" stroke-width="0.9" vector-effect="non-scaling-stroke" stroke-linejoin="round">KAIST</text><path d="M1049.0,221.2 Q1093.9,215.5 1130.6,221.2 Q1093.9,227.0 1049.0,221.2Z" fill="#3578b0"/><text transform="translate(407.0,256.2) scale(0.2340,0.2014)" font-size="100" font-weight="bold" fill="#285a88" stroke="#285a88" stroke-width="0.9" vector-effect="non-scaling-stroke" stroke-linejoin="round">KAIST</text><path d="M404.0,261.7 Q450.5,255.8 488.6,261.7 Q450.5,267.5 404.0,261.7Z" fill="#3578b0"/><text transform="translate(516.5,257.1) scale(0.2340,0.2014)" font-size="100" font-weight="bold" fill="#285a88" stroke="#285a88" stroke-width="0.9" vector-effect="non-scaling-stroke" stroke-linejoin="round">KAIST</text><path d="M513.5,262.6 Q560.0,256.8 598.1,262.6 Q560.0,268.5 513.5,262.6Z" fill="#3578b0"/><text transform="translate(626.0,258.1) scale(0.2340,0.2014)" font-size="100" font-weight="bold" fill="#285a88" stroke="#285a88" stroke-width="0.9" vector-effect="non-scaling-stroke" stroke-linejoin="round">KAIST</text><path d="M623.0,263.6 Q669.5,257.8 707.6,263.6 Q669.5,269.5 623.0,263.6Z" fill="#3578b0"/><text transform="translate(735.5,259.1) scale(0.2340,0.2014)" font-size="100" font-weight="bold" fill="#285a88" stroke="#285a88" stroke-width="0.9" vector-effect="non-scaling-stroke" stroke-linejoin="round">KAIST</text><path d="M732.5,264.6 Q779.0,258.7 817.1,264.6 Q779.0,270.5 732.5,264.6Z" fill="#3578b0"/><text transform="translate(845.0,260.1) scale(0.2340,0.2014)" font-size="100" font-weight="bold" fill="#285a88" stroke="#285a88" stroke-width="0.9" vector-effect="non-scaling-stroke" stroke-linejoin="round">KAIST</text><path d="M842.0,265.6 Q888.5,259.7 926.6,265.6 Q888.5,271.5 842.0,265.6Z" fill="#3578b0"/><text transform="translate(954.5,261.1) scale(0.2340,0.2014)" font-size="100" font-weight="bold" fill="#285a88" stroke="#285a88" stroke-width="0.9" vector-effect="non-scaling-stroke" stroke-linejoin="round">KAIST</text><path d="M951.5,266.6 Q998.0,260.7 1036.1,266.6 Q998.0,272.5 951.5,266.6Z" fill="#3578b0"/><text transform="translate(1064.0,262.1) scale(0.2340,0.2014)" font-size="100" font-weight="bold" fill="#285a88" stroke="#285a88" stroke-width="0.9" vector-effect="non-scaling-stroke" stroke-linejoin="round">KAIST</text><path d="M1061.0,267.6 Q1107.5,261.7 1145.6,267.6 Q1107.5,273.4 1061.0,267.6Z" fill="#3578b0"/><text transform="translate(394.9,305.6) scale(0.2425,0.2183)" font-size="100" font-weight="bold" fill="#285a88" stroke="#285a88" stroke-width="0.9" vector-effect="non-scaling-stroke" stroke-linejoin="round">KAIST</text><path d="M392.0,312.1 Q440.1,305.8 479.5,312.1 Q440.1,318.3 392.0,312.1Z" fill="#3578b0"/><text transform="translate(508.4,306.6) scale(0.2425,0.2183)" font-size="100" font-weight="bold" fill="#285a88" stroke="#285a88" stroke-width="0.9" vector-effect="non-scaling-stroke" stroke-linejoin="round">KAIST</text><path d="M505.5,313.1 Q553.6,306.8 593.0,313.1 Q553.6,319.3 505.5,313.1Z" fill="#3578b0"/><text transform="translate(621.9,307.6) scale(0.2425,0.2183)" font-size="100" font-weight="bold" fill="#285a88" stroke="#285a88" stroke-width="0.9" vector-effect="non-scaling-stroke" stroke-linejoin="round">KAIST</text><path d="M619.0,314.1 Q667.1,307.9 706.5,314.1 Q667.1,320.4 619.0,314.1Z" fill="#3578b0"/><text transform="translate(735.4,308.6) scale(0.2425,0.2183)" font-size="100" font-weight="bold" fill="#285a88" stroke="#285a88" stroke-width="0.9" vector-effect="non-scaling-stroke" stroke-linejoin="round">KAIST</text><path d="M732.5,315.1 Q780.6,308.9 820.0,315.1 Q780.6,321.4 732.5,315.1Z" fill="#3578b0"/><text transform="translate(848.9,309.6) scale(0.2425,0.2183)" font-size="100" font-weight="bold" fill="#285a88" stroke="#285a88" stroke-width="0.9" vector-effect="non-scaling-stroke" stroke-linejoin="round">KAIST</text><path d="M846.0,316.1 Q894.1,309.9 933.5,316.1 Q894.1,322.4 846.0,316.1Z" fill="#3578b0"/><text transform="translate(962.4,310.7) scale(0.2425,0.2183)" font-size="100" font-weight="bold" fill="#285a88" stroke="#285a88" stroke-width="0.9" vector-effect="non-scaling-stroke" stroke-linejoin="round">KAIST</text><path d="M959.5,317.2 Q1007.6,310.9 1047.0,317.2 Q1007.6,323.4 959.5,317.2Z" fill="#3578b0"/><text transform="translate(1075.9,311.7) scale(0.2425,0.2183)" font-size="100" font-weight="bold" fill="#285a88" stroke="#285a88" stroke-width="0.9" vector-effect="non-scaling-stroke" stroke-linejoin="round">KAIST</text><path d="M1073.0,318.2 Q1121.1,311.9 1160.5,318.2 Q1121.1,324.4 1073.0,318.2Z" fill="#3578b0"/><text transform="translate(378.3,356.3) scale(0.2543,0.2141)" font-size="100" font-weight="bold" fill="#285a88" stroke="#285a88" stroke-width="0.9" vector-effect="non-scaling-stroke" stroke-linejoin="round">KAIST</text><path d="M375.5,362.9 Q425.8,356.0 467.0,362.9 Q425.8,369.8 375.5,362.9Z" fill="#3578b0"/><text transform="translate(497.3,357.4) scale(0.2543,0.2141)" font-size="100" font-weight="bold" fill="#285a88" stroke="#285a88" stroke-width="0.9" vector-effect="non-scaling-stroke" stroke-linejoin="round">KAIST</text><path d="M494.5,364.0 Q544.8,357.1 586.0,364.0 Q544.8,370.9 494.5,364.0Z" fill="#3578b0"/><text transform="translate(616.3,358.5) scale(0.2543,0.2141)" font-size="100" font-weight="bold" fill="#285a88" stroke="#285a88" stroke-width="0.9" vector-effect="non-scaling-stroke" stroke-linejoin="round">KAIST</text><path d="M613.5,365.1 Q663.8,358.2 705.0,365.1 Q663.8,371.9 613.5,365.1Z" fill="#3578b0"/><text transform="translate(735.3,359.5) scale(0.2543,0.2141)" font-size="100" font-weight="bold" fill="#285a88" stroke="#285a88" stroke-width="0.9" vector-effect="non-scaling-stroke" stroke-linejoin="round">KAIST</text><path d="M732.5,366.1 Q782.8,359.3 824.0,366.1 Q782.8,373.0 732.5,366.1Z" fill="#3578b0"/><text transform="translate(854.3,360.6) scale(0.2543,0.2141)" font-size="100" font-weight="bold" fill="#285a88" stroke="#285a88" stroke-width="0.9" vector-effect="non-scaling-stroke" stroke-linejoin="round">KAIST</text><path d="M851.5,367.2 Q901.8,360.3 943.0,367.2 Q901.8,374.1 851.5,367.2Z" fill="#3578b0"/><text transform="translate(973.3,361.7) scale(0.2543,0.2141)" font-size="100" font-weight="bold" fill="#285a88" stroke="#285a88" stroke-width="0.9" vector-effect="non-scaling-stroke" stroke-linejoin="round">KAIST</text><path d="M970.5,368.3 Q1020.8,361.4 1062.0,368.3 Q1020.8,375.2 970.5,368.3Z" fill="#3578b0"/><text transform="translate(1092.3,362.8) scale(0.2543,0.2141)" font-size="100" font-weight="bold" fill="#285a88" stroke="#285a88" stroke-width="0.9" vector-effect="non-scaling-stroke" stroke-linejoin="round">KAIST</text><path d="M1089.5,369.4 Q1139.8,362.5 1181.0,369.4 Q1139.8,376.2 1089.5,369.4Z" fill="#3578b0"/><text transform="translate(369.3,411.9) scale(0.2607,0.2155)" font-size="100" font-weight="bold" fill="#285a88" stroke="#285a88" stroke-width="0.9" vector-effect="non-scaling-stroke" stroke-linejoin="round">KAIST</text><path d="M366.5,418.9 Q418.0,411.4 460.2,418.9 Q418.0,426.4 366.5,418.9Z" fill="#3578b0"/><text transform="translate(491.3,413.0) scale(0.2607,0.2155)" font-size="100" font-weight="bold" fill="#285a88" stroke="#285a88" stroke-width="0.9" vector-effect="non-scaling-stroke" stroke-linejoin="round">KAIST</text><path d="M488.5,420.0 Q540.0,412.5 582.2,420.0 Q540.0,427.5 488.5,420.0Z" fill="#3578b0"/><text transform="translate(613.3,414.0) scale(0.2607,0.2155)" font-size="100" font-weight="bold" fill="#285a88" stroke="#285a88" stroke-width="0.9" vector-effect="non-scaling-stroke" stroke-linejoin="round">KAIST</text><path d="M610.5,421.0 Q662.0,413.5 704.2,421.0 Q662.0,428.5 610.5,421.0Z" fill="#3578b0"/><text transform="translate(735.3,415.1) scale(0.2607,0.2155)" font-size="100" font-weight="bold" fill="#285a88" stroke="#285a88" stroke-width="0.9" vector-effect="non-scaling-stroke" stroke-linejoin="round">KAIST</text><path d="M732.5,422.1 Q784.0,414.6 826.2,422.1 Q784.0,429.6 732.5,422.1Z" fill="#3578b0"/><text transform="translate(857.3,416.2) scale(0.2607,0.2155)" font-size="100" font-weight="bold" fill="#285a88" stroke="#285a88" stroke-width="0.9" vector-effect="non-scaling-stroke" stroke-linejoin="round">KAIST</text><path d="M854.5,423.2 Q906.0,415.7 948.2,423.2 Q906.0,430.7 854.5,423.2Z" fill="#3578b0"/><text transform="translate(979.3,417.3) scale(0.2607,0.2155)" font-size="100" font-weight="bold" fill="#285a88" stroke="#285a88" stroke-width="0.9" vector-effect="non-scaling-stroke" stroke-linejoin="round">KAIST</text><path d="M976.5,424.3 Q1028.0,416.8 1070.2,424.3 Q1028.0,431.8 976.5,424.3Z" fill="#3578b0"/></g><polygon points="782.0,150.5 1002.0,154.0 1044.0,353.6 792.0,350.0" fill="none" stroke="rgba(90,100,110,0.5)" stroke-width="1"/><polygon points="477.0,132.5 684.0,136.0 679.0,337.0 437.0,337.0" fill="rgba(214,224,234,0.55)"/><polygon points="487.0,137.0 673.0,139.0 671.0,331.5 446.0,331.5" fill="url(#darkA)"/><polygon points="406.0,146.0 452.0,146.0 420.0,318.0 406.0,318.0" fill="url(#paperA)"/><polygon points="448.0,107.0 478.0,107.0 438.0,337.0 406.0,337.0 406.0,330.0" fill="url(#cuL)"/><polygon points="449.0,107.5 679.0,109.5 678.5,136.0 446.0,133.5" fill="url(#cuTop)"/><polygon points="433.6,336.2 700.0,338.5 702.0,377.0 432.0,373.8" fill="url(#cuBot)"/><polygon points="688.6,138.7 723.8,138.7 715.4,415.0 677.9,415.0" fill="url(#cuRV)"/><polygon points="673.5,377.0 715.6,377.0 715.6,415.0 673.5,415.0" fill="#c8781e" opacity="0.9"/><polygon points="455.0,92.8 490.0,92.8 487.0,108.0 452.0,108.0" fill="#c8781e" opacity="0.9"/><polygon points="406.0,92.8 446.0,92.8 446.0,98.8 406.0,98.8" fill="#a8141a"/><polygon points="746.8,92.8 782.0,92.8 785.4,351.0 746.8,351.0" fill="url(#cuRL)"/><polygon points="746.8,121.5 992.0,122.0 992.0,149.0 746.8,150.0" fill="url(#cuRT)"/><polygon points="795.5,358.7 1055.7,360.4 1062.4,402.3 793.8,395.6" fill="url(#cuRB)" stroke="#8a4a2a" stroke-width="0.8"/><polygon points="1000.3,155.0 1034.0,155.0 1098.0,400.0 1098.0,415.0 1045.6,415.0" fill="url(#cuRS)"/><polygon points="1062.0,398.0 1098.0,398.0 1098.0,415.0 1066.0,415.0" fill="#d08a50" opacity="0.6"/></g>
<rect x="404.8" y="92.0" width="692.8" height="323.2" fill="none" stroke="#000" stroke-width="2.4"/>
<text x="538.86" y="249.40" font-size="36.5" fill="#fff" textLength="52.35" lengthAdjust="spacingAndGlyphs" stroke="#fff" stroke-width="0.7">2 V</text>
<text x="873.90" y="249.50" font-size="36.5" fill="#000" textLength="52.41" lengthAdjust="spacingAndGlyphs" stroke="#000" stroke-width="0.7" filter="url(#glow)">0 V</text>
<g clip-path="url(#cpb)"><rect x="408.6" y="582.4" width="688.9999999999999" height="330.0" fill="url(#paperB)"/><text transform="translate(350.6,626.0) scale(0.3716,0.3239)" font-size="100" font-weight="bold" fill="#1f55a0" stroke="#1f55a0" stroke-width="0.9" vector-effect="non-scaling-stroke" stroke-linejoin="round">KAIST</text><path d="M350.0,636.0 Q418.6,628.5 474.7,636.0 Q418.6,643.5 350.0,636.0Z" fill="#2a7cc4"/><text transform="translate(522.6,620.0) scale(0.3716,0.3239)" font-size="100" font-weight="bold" fill="#1f55a0" stroke="#1f55a0" stroke-width="0.9" vector-effect="non-scaling-stroke" stroke-linejoin="round">KAIST</text><path d="M522.0,630.0 Q590.6,622.5 646.7,630.0 Q590.6,637.5 522.0,630.0Z" fill="#2a7cc4"/><text transform="translate(694.6,614.0) scale(0.3716,0.3239)" font-size="100" font-weight="bold" fill="#1f55a0" stroke="#1f55a0" stroke-width="0.9" vector-effect="non-scaling-stroke" stroke-linejoin="round">KAIST</text><path d="M694.0,624.0 Q762.6,616.5 818.7,624.0 Q762.6,631.5 694.0,624.0Z" fill="#2a7cc4"/><text transform="translate(866.6,607.9) scale(0.3716,0.3239)" font-size="100" font-weight="bold" fill="#1f55a0" stroke="#1f55a0" stroke-width="0.9" vector-effect="non-scaling-stroke" stroke-linejoin="round">KAIST</text><path d="M866.0,617.9 Q934.6,610.4 990.7,617.9 Q934.6,625.4 866.0,617.9Z" fill="#2a7cc4"/><text transform="translate(1038.6,601.9) scale(0.3716,0.3239)" font-size="100" font-weight="bold" fill="#1f55a0" stroke="#1f55a0" stroke-width="0.9" vector-effect="non-scaling-stroke" stroke-linejoin="round">KAIST</text><path d="M1038.0,611.9 Q1106.6,604.4 1162.7,611.9 Q1106.6,619.4 1038.0,611.9Z" fill="#2a7cc4"/><text transform="translate(342.5,702.0) scale(0.3803,0.3183)" font-size="100" font-weight="bold" fill="#1f55a0" stroke="#1f55a0" stroke-width="0.9" vector-effect="non-scaling-stroke" stroke-linejoin="round">KAIST</text><path d="M342.0,714.2 Q412.2,704.7 469.6,714.2 Q412.2,723.7 342.0,714.2Z" fill="#2a7cc4"/><text transform="translate(518.5,695.9) scale(0.3803,0.3183)" font-size="100" font-weight="bold" fill="#1f55a0" stroke="#1f55a0" stroke-width="0.9" vector-effect="non-scaling-stroke" stroke-linejoin="round">KAIST</text><path d="M518.0,708.1 Q588.2,698.6 645.6,708.1 Q588.2,717.6 518.0,708.1Z" fill="#2a7cc4"/><text transform="translate(694.5,689.7) scale(0.3803,0.3183)" font-size="100" font-weight="bold" fill="#1f55a0" stroke="#1f55a0" stroke-width="0.9" vector-effect="non-scaling-stroke" stroke-linejoin="round">KAIST</text><path d="M694.0,701.9 Q764.2,692.4 821.6,701.9 Q764.2,711.4 694.0,701.9Z" fill="#2a7cc4"/><text transform="translate(870.5,683.5) scale(0.3803,0.3183)" font-size="100" font-weight="bold" fill="#1f55a0" stroke="#1f55a0" stroke-width="0.9" vector-effect="non-scaling-stroke" stroke-linejoin="round">KAIST</text><path d="M870.0,695.7 Q940.2,686.2 997.6,695.7 Q940.2,705.2 870.0,695.7Z" fill="#2a7cc4"/><text transform="translate(1046.5,677.4) scale(0.3803,0.3183)" font-size="100" font-weight="bold" fill="#1f55a0" stroke="#1f55a0" stroke-width="0.9" vector-effect="non-scaling-stroke" stroke-linejoin="round">KAIST</text><path d="M1046.0,689.6 Q1116.2,680.1 1173.6,689.6 Q1116.2,699.1 1046.0,689.6Z" fill="#2a7cc4"/><text transform="translate(320.4,789.2) scale(0.4040,0.3507)" font-size="100" font-weight="bold" fill="#1f55a0" stroke="#1f55a0" stroke-width="0.9" vector-effect="non-scaling-stroke" stroke-linejoin="round">KAIST</text><path d="M320.0,803.4 Q394.5,792.4 455.4,803.4 Q394.5,814.4 320.0,803.4Z" fill="#2a7cc4"/><text transform="translate(507.4,782.6) scale(0.4040,0.3507)" font-size="100" font-weight="bold" fill="#1f55a0" stroke="#1f55a0" stroke-width="0.9" vector-effect="non-scaling-stroke" stroke-linejoin="round">KAIST</text><path d="M507.0,796.8 Q581.5,785.8 642.4,796.8 Q581.5,807.8 507.0,796.8Z" fill="#2a7cc4"/><text transform="translate(694.4,776.1) scale(0.4040,0.3507)" font-size="100" font-weight="bold" fill="#1f55a0" stroke="#1f55a0" stroke-width="0.9" vector-effect="non-scaling-stroke" stroke-linejoin="round">KAIST</text><path d="M694.0,790.3 Q768.5,779.3 829.4,790.3 Q768.5,801.3 694.0,790.3Z" fill="#2a7cc4"/><text transform="translate(881.4,769.5) scale(0.4040,0.3507)" font-size="100" font-weight="bold" fill="#1f55a0" stroke="#1f55a0" stroke-width="0.9" vector-effect="non-scaling-stroke" stroke-linejoin="round">KAIST</text><path d="M881.0,783.7 Q955.5,772.7 1016.4,783.7 Q955.5,794.7 881.0,783.7Z" fill="#2a7cc4"/><text transform="translate(1068.4,763.0) scale(0.4040,0.3507)" font-size="100" font-weight="bold" fill="#1f55a0" stroke="#1f55a0" stroke-width="0.9" vector-effect="non-scaling-stroke" stroke-linejoin="round">KAIST</text><path d="M1068.0,777.2 Q1142.5,766.2 1203.4,777.2 Q1142.5,788.2 1068.0,777.2Z" fill="#2a7cc4"/><text transform="translate(296.2,889.8) scale(0.4300,0.3986)" font-size="100" font-weight="bold" fill="#1f55a0" stroke="#1f55a0" stroke-width="0.9" vector-effect="non-scaling-stroke" stroke-linejoin="round">KAIST</text><path d="M296.0,906.5 Q375.1,894.5 439.9,906.5 Q375.1,918.5 296.0,906.5Z" fill="#2a7cc4"/><text transform="translate(495.2,882.8) scale(0.4300,0.3986)" font-size="100" font-weight="bold" fill="#1f55a0" stroke="#1f55a0" stroke-width="0.9" vector-effect="non-scaling-stroke" stroke-linejoin="round">KAIST</text><path d="M495.0,899.5 Q574.1,887.5 638.9,899.5 Q574.1,911.5 495.0,899.5Z" fill="#2a7cc4"/><text transform="translate(694.2,875.9) scale(0.4300,0.3986)" font-size="100" font-weight="bold" fill="#1f55a0" stroke="#1f55a0" stroke-width="0.9" vector-effect="non-scaling-stroke" stroke-linejoin="round">KAIST</text><path d="M694.0,892.6 Q773.1,880.6 837.9,892.6 Q773.1,904.6 694.0,892.6Z" fill="#2a7cc4"/><text transform="translate(893.2,868.9) scale(0.4300,0.3986)" font-size="100" font-weight="bold" fill="#1f55a0" stroke="#1f55a0" stroke-width="0.9" vector-effect="non-scaling-stroke" stroke-linejoin="round">KAIST</text><path d="M893.0,885.6 Q972.1,873.6 1036.9,885.6 Q972.1,897.6 893.0,885.6Z" fill="#2a7cc4"/><text transform="translate(1092.2,861.9) scale(0.4300,0.3986)" font-size="100" font-weight="bold" fill="#1f55a0" stroke="#1f55a0" stroke-width="0.9" vector-effect="non-scaling-stroke" stroke-linejoin="round">KAIST</text><path d="M1092.0,878.6 Q1171.1,866.6 1235.9,878.6 Q1171.1,890.6 1092.0,878.6Z" fill="#2a7cc4"/><polygon points="763.6,588.0 1098.0,588.0 1098.0,908.3 770.0,908.3" fill="rgba(200,186,165,0.22)" stroke="rgba(150,150,150,0.5)" stroke-width="0.8"/><polygon points="797.9,640.3 1035.0,635.1 1093.5,862.0 818.6,867.1" fill="url(#tanG)"/><g clip-path="url(#cptan)"><text transform="translate(350.6,626.0) scale(0.3716,0.3239)" font-size="100" font-weight="bold" fill="#2f4c5a" stroke="#2f4c5a" stroke-width="0.9" vector-effect="non-scaling-stroke" stroke-linejoin="round">KAIST</text><path d="M350.0,636.0 Q418.6,628.5 474.7,636.0 Q418.6,643.5 350.0,636.0Z" fill="#3b5c6a"/><text transform="translate(522.6,620.0) scale(0.3716,0.3239)" font-size="100" font-weight="bold" fill="#2f4c5a" stroke="#2f4c5a" stroke-width="0.9" vector-effect="non-scaling-stroke" stroke-linejoin="round">KAIST</text><path d="M522.0,630.0 Q590.6,622.5 646.7,630.0 Q590.6,637.5 522.0,630.0Z" fill="#3b5c6a"/><text transform="translate(694.6,614.0) scale(0.3716,0.3239)" font-size="100" font-weight="bold" fill="#2f4c5a" stroke="#2f4c5a" stroke-width="0.9" vector-effect="non-scaling-stroke" stroke-linejoin="round">KAIST</text><path d="M694.0,624.0 Q762.6,616.5 818.7,624.0 Q762.6,631.5 694.0,624.0Z" fill="#3b5c6a"/><text transform="translate(866.6,607.9) scale(0.3716,0.3239)" font-size="100" font-weight="bold" fill="#2f4c5a" stroke="#2f4c5a" stroke-width="0.9" vector-effect="non-scaling-stroke" stroke-linejoin="round">KAIST</text><path d="M866.0,617.9 Q934.6,610.4 990.7,617.9 Q934.6,625.4 866.0,617.9Z" fill="#3b5c6a"/><text transform="translate(1038.6,601.9) scale(0.3716,0.3239)" font-size="100" font-weight="bold" fill="#2f4c5a" stroke="#2f4c5a" stroke-width="0.9" vector-effect="non-scaling-stroke" stroke-linejoin="round">KAIST</text><path d="M1038.0,611.9 Q1106.6,604.4 1162.7,611.9 Q1106.6,619.4 1038.0,611.9Z" fill="#3b5c6a"/><text transform="translate(342.5,702.0) scale(0.3803,0.3183)" font-size="100" font-weight="bold" fill="#2f4c5a" stroke="#2f4c5a" stroke-width="0.9" vector-effect="non-scaling-stroke" stroke-linejoin="round">KAIST</text><path d="M342.0,714.2 Q412.2,704.7 469.6,714.2 Q412.2,723.7 342.0,714.2Z" fill="#3b5c6a"/><text transform="translate(518.5,695.9) scale(0.3803,0.3183)" font-size="100" font-weight="bold" fill="#2f4c5a" stroke="#2f4c5a" stroke-width="0.9" vector-effect="non-scaling-stroke" stroke-linejoin="round">KAIST</text><path d="M518.0,708.1 Q588.2,698.6 645.6,708.1 Q588.2,717.6 518.0,708.1Z" fill="#3b5c6a"/><text transform="translate(694.5,689.7) scale(0.3803,0.3183)" font-size="100" font-weight="bold" fill="#2f4c5a" stroke="#2f4c5a" stroke-width="0.9" vector-effect="non-scaling-stroke" stroke-linejoin="round">KAIST</text><path d="M694.0,701.9 Q764.2,692.4 821.6,701.9 Q764.2,711.4 694.0,701.9Z" fill="#3b5c6a"/><text transform="translate(870.5,683.5) scale(0.3803,0.3183)" font-size="100" font-weight="bold" fill="#2f4c5a" stroke="#2f4c5a" stroke-width="0.9" vector-effect="non-scaling-stroke" stroke-linejoin="round">KAIST</text><path d="M870.0,695.7 Q940.2,686.2 997.6,695.7 Q940.2,705.2 870.0,695.7Z" fill="#3b5c6a"/><text transform="translate(1046.5,677.4) scale(0.3803,0.3183)" font-size="100" font-weight="bold" fill="#2f4c5a" stroke="#2f4c5a" stroke-width="0.9" vector-effect="non-scaling-stroke" stroke-linejoin="round">KAIST</text><path d="M1046.0,689.6 Q1116.2,680.1 1173.6,689.6 Q1116.2,699.1 1046.0,689.6Z" fill="#3b5c6a"/><text transform="translate(320.4,789.2) scale(0.4040,0.3507)" font-size="100" font-weight="bold" fill="#2f4c5a" stroke="#2f4c5a" stroke-width="0.9" vector-effect="non-scaling-stroke" stroke-linejoin="round">KAIST</text><path d="M320.0,803.4 Q394.5,792.4 455.4,803.4 Q394.5,814.4 320.0,803.4Z" fill="#3b5c6a"/><text transform="translate(507.4,782.6) scale(0.4040,0.3507)" font-size="100" font-weight="bold" fill="#2f4c5a" stroke="#2f4c5a" stroke-width="0.9" vector-effect="non-scaling-stroke" stroke-linejoin="round">KAIST</text><path d="M507.0,796.8 Q581.5,785.8 642.4,796.8 Q581.5,807.8 507.0,796.8Z" fill="#3b5c6a"/><text transform="translate(694.4,776.1) scale(0.4040,0.3507)" font-size="100" font-weight="bold" fill="#2f4c5a" stroke="#2f4c5a" stroke-width="0.9" vector-effect="non-scaling-stroke" stroke-linejoin="round">KAIST</text><path d="M694.0,790.3 Q768.5,779.3 829.4,790.3 Q768.5,801.3 694.0,790.3Z" fill="#3b5c6a"/><text transform="translate(881.4,769.5) scale(0.4040,0.3507)" font-size="100" font-weight="bold" fill="#2f4c5a" stroke="#2f4c5a" stroke-width="0.9" vector-effect="non-scaling-stroke" stroke-linejoin="round">KAIST</text><path d="M881.0,783.7 Q955.5,772.7 1016.4,783.7 Q955.5,794.7 881.0,783.7Z" fill="#3b5c6a"/><text transform="translate(1068.4,763.0) scale(0.4040,0.3507)" font-size="100" font-weight="bold" fill="#2f4c5a" stroke="#2f4c5a" stroke-width="0.9" vector-effect="non-scaling-stroke" stroke-linejoin="round">KAIST</text><path d="M1068.0,777.2 Q1142.5,766.2 1203.4,777.2 Q1142.5,788.2 1068.0,777.2Z" fill="#3b5c6a"/><text transform="translate(296.2,889.8) scale(0.4300,0.3986)" font-size="100" font-weight="bold" fill="#2f4c5a" stroke="#2f4c5a" stroke-width="0.9" vector-effect="non-scaling-stroke" stroke-linejoin="round">KAIST</text><path d="M296.0,906.5 Q375.1,894.5 439.9,906.5 Q375.1,918.5 296.0,906.5Z" fill="#3b5c6a"/><text transform="translate(495.2,882.8) scale(0.4300,0.3986)" font-size="100" font-weight="bold" fill="#2f4c5a" stroke="#2f4c5a" stroke-width="0.9" vector-effect="non-scaling-stroke" stroke-linejoin="round">KAIST</text><path d="M495.0,899.5 Q574.1,887.5 638.9,899.5 Q574.1,911.5 495.0,899.5Z" fill="#3b5c6a"/><text transform="translate(694.2,875.9) scale(0.4300,0.3986)" font-size="100" font-weight="bold" fill="#2f4c5a" stroke="#2f4c5a" stroke-width="0.9" vector-effect="non-scaling-stroke" stroke-linejoin="round">KAIST</text><path d="M694.0,892.6 Q773.1,880.6 837.9,892.6 Q773.1,904.6 694.0,892.6Z" fill="#3b5c6a"/><text transform="translate(893.2,868.9) scale(0.4300,0.3986)" font-size="100" font-weight="bold" fill="#2f4c5a" stroke="#2f4c5a" stroke-width="0.9" vector-effect="non-scaling-stroke" stroke-linejoin="round">KAIST</text><path d="M893.0,885.6 Q972.1,873.6 1036.9,885.6 Q972.1,897.6 893.0,885.6Z" fill="#3b5c6a"/><text transform="translate(1092.2,861.9) scale(0.4300,0.3986)" font-size="100" font-weight="bold" fill="#2f4c5a" stroke="#2f4c5a" stroke-width="0.9" vector-effect="non-scaling-stroke" stroke-linejoin="round">KAIST</text><path d="M1092.0,878.6 Q1171.1,866.6 1235.9,878.6 Q1171.1,890.6 1092.0,878.6Z" fill="#3b5c6a"/></g><polygon points="415.0,644.0 700.0,644.0 700.0,913.0 412.0,913.0" fill="rgba(245,245,245,0.35)"/><polygon points="449.7,652.3 695.5,650.6 693.8,879.2 414.0,881.0" fill="url(#darkB)"/><polygon points="422.2,602.5 714.4,600.8 714.4,642.0 422.2,645.5" fill="url(#cuBT)"/><polygon points="423.0,603.3 509.0,602.5 509.0,646.6 421.8,646.6" fill="#b0521c" opacity="0.88"/><polygon points="421.8,625.0 490.0,625.0 490.0,646.6 421.8,646.6" fill="#9c4010" opacity="0.35"/><polygon points="408.4,611.0 426.6,611.0 426.6,629.7 408.4,629.7" fill="#d0202a"/><polygon points="702.4,600.8 716.1,600.8 723.0,913.6 704.0,913.6" fill="url(#cuBV)"/><polygon points="466.9,667.8 482.3,667.8 452.0,895.0 432.0,895.0" fill="url(#cuBV)"/><polygon points="456.6,836.3 676.6,838.0 676.6,858.6 456.6,858.6" fill="url(#cuBB)"/><polygon points="408.4,880.5 469.5,880.5 469.5,913.6 408.4,913.6" fill="#e2a81c"/><polygon points="408.4,839.0 417.7,839.0 416.0,862.0 408.4,862.0" fill="#d8a020"/><polygon points="428.0,815.0 459.5,815.0 459.5,880.0 428.0,880.0" fill="#c85a14" opacity="0.82"/><polygon points="426.0,880.0 462.0,880.0 460.0,897.0 428.0,897.0" fill="#c8701c" opacity="0.8"/><polygon points="456.8,836.0 495.0,836.0 495.0,857.0 456.8,857.0" fill="#d88a30" opacity="0.6"/><rect x="436" y="896.8" width="17.4" height="18" rx="3" fill="#0e0e0e"/><polygon points="761.9,588.7 1043.6,587.0 1047.0,624.8 763.6,626.5" fill="url(#cuBT2)"/><polygon points="1040.0,588.0 1051.0,588.0 1099.0,797.0 1099.0,832.0 1090.8,830.0" fill="url(#cuBV)"/><polygon points="811.7,655.8 827.1,655.8 851.2,870.5 832.3,870.5" fill="url(#cuBV)"/><polygon points="849.5,834.5 1078.0,829.3 1078.0,848.2 849.5,851.6" fill="url(#cuBB)"/></g>
<rect x="407.4" y="581.2" width="691.2" height="332.4" fill="none" stroke="#000" stroke-width="2.4"/>
<text x="538.54" y="763.40" font-size="36.5" fill="#fff" textLength="52.87" lengthAdjust="spacingAndGlyphs" stroke="#fff" stroke-width="0.7">2 V</text>
<text x="916.12" y="754.50" font-size="36.5" fill="#000" textLength="51.79" lengthAdjust="spacingAndGlyphs" stroke="#000" stroke-width="0.7" filter="url(#glow)">0 V</text>
<rect x="1298" y="57.0" width="367.8" height="28.4" fill="#c9c9c9"/>
<rect x="1665.8" y="57.0" width="304.6" height="28.4" fill="#ade0f5"/>
<rect x="1328" y="57.0" width="98.4" height="28.4" fill="url(#spec)"/>
<line x1="1298" y1="85.2" x2="1628.4" y2="85.2" stroke="#9a9a9a" stroke-width="0.9"/>
<line x1="1640.7" y1="85.2" x2="1970" y2="85.2" stroke="#8fb8c8" stroke-width="0.9"/>
<g transform="translate(0,0)"><polygon points="1303.8,410.0 1303.8,368.0 1304.7,368.0 1305.6,360.4 1306.5,351.9 1307.4,343.4 1308.3,334.9 1308.6,337.9 1308.8,334.9 1309.2,331.1 1310.1,328.6 1311.0,326.2 1311.9,323.7 1312.8,321.3 1313.7,318.8 1314.6,314.7 1315.5,309.7 1316.4,304.8 1316.7,338.8 1316.9,304.8 1317.3,299.8 1318.2,295.1 1319.1,291.0 1320.0,286.9 1320.9,282.8 1321.2,330.1 1321.4,282.8 1321.8,278.8 1322.7,274.7 1323.6,270.8 1323.9,331.5 1324.1,270.8 1324.5,267.6 1325.4,264.3 1326.3,261.1 1327.2,257.9 1328.1,254.7 1329.0,251.7 1329.9,248.8 1330.8,245.9 1331.7,242.9 1332.6,240.0 1333.5,237.6 1333.8,242.1 1334.0,237.6 1334.4,235.3 1334.7,310.0 1334.9,235.3 1335.3,182.7 1336.2,180.2 1337.1,177.8 1338.0,175.3 1338.9,172.8 1339.8,170.3 1340.7,167.8 1341.6,166.6 1342.5,166.0 1343.4,165.4 1344.3,164.8 1345.2,164.2 1346.1,163.5 1347.0,162.1 1347.9,153.7 1348.2,213.7 1348.4,153.7 1348.8,145.3 1349.7,136.9 1350.6,132.8 1351.5,129.2 1352.4,119.5 1352.7,175.7 1352.9,119.5 1353.3,106.7 1354.2,100.8 1355.1,100.4 1355.4,159.6 1355.6,100.4 1356.0,100.1 1356.9,99.7 1357.2,152.0 1357.4,99.7 1357.8,99.3 1358.7,98.8 1359.0,108.4 1359.2,98.8 1359.6,96.9 1360.5,95.1 1361.4,93.3 1361.7,125.3 1361.9,93.3 1362.3,91.4 1362.6,134.2 1362.8,91.4 1363.2,92.1 1364.1,93.5 1365.0,94.8 1365.9,96.2 1366.8,96.6 1367.7,95.7 1368.6,94.8 1368.9,125.5 1369.1,94.8 1369.5,93.9 1369.8,99.9 1370.0,93.9 1370.4,93.0 1371.3,93.5 1372.2,93.9 1372.5,97.1 1372.7,93.9 1373.1,94.4 1374.0,94.8 1374.9,95.3 1375.8,95.8 1376.7,96.2 1377.6,96.7 1378.5,97.6 1379.4,99.4 1380.3,101.2 1381.2,102.9 1382.1,104.7 1383.0,106.5 1383.9,108.3 1384.8,108.0 1385.7,107.3 1386.6,106.7 1387.5,106.1 1388.4,105.5 1389.3,104.9 1390.2,105.5 1391.1,108.7 1391.4,124.9 1391.6,108.7 1392.0,111.8 1392.9,114.9 1393.2,147.1 1393.4,114.9 1393.8,118.0 1394.7,118.9 1395.0,152.2 1395.2,118.9 1395.6,119.8 1396.5,120.7 1397.4,121.7 1398.3,122.6 1399.2,123.5 1400.1,124.4 1400.4,127.7 1400.6,124.4 1401.0,125.3 1401.9,126.3 1402.8,127.2 1403.7,128.1 1404.6,129.1 1405.5,130.0 1406.4,130.6 1407.3,131.2 1408.2,131.8 1409.1,132.4 1410.0,133.1 1410.9,133.7 1411.8,135.1 1412.7,137.4 1413.0,165.4 1413.2,137.4 1413.6,139.8 1414.5,142.1 1415.4,144.5 1416.3,146.9 1417.2,149.2 1418.1,151.1 1418.4,168.7 1418.6,151.1 1419.0,153.0 1419.9,155.0 1420.2,166.0 1420.4,155.0 1420.8,157.2 1421.7,159.4 1422.6,161.6 1423.5,163.8 1424.4,166.0 1424.7,177.7 1424.9,166.0 1425.3,167.3 1426.2,167.9 1427.1,168.5 1428.0,169.1 1428.9,170.0 1429.2,194.6 1429.4,170.0 1429.8,172.5 1430.1,225.6 1430.3,172.5 1430.7,174.9 1431.6,177.3 1431.9,186.3 1432.1,177.3 1432.5,179.7 1433.4,182.8 1434.3,185.9 1435.2,189.0 1436.1,192.1 1436.4,201.7 1436.6,192.1 1437.0,195.2 1437.9,198.3 1438.8,201.1 1439.7,203.8 1440.6,206.6 1441.5,209.4 1442.4,212.2 1443.3,214.3 1443.6,217.3 1443.8,214.3 1444.2,215.2 1445.1,216.0 1446.0,216.9 1446.9,217.8 1447.8,218.6 1448.7,220.3 1449.6,222.6 1450.5,224.9 1451.4,227.2 1452.3,231.8 1453.2,244.7 1454.1,257.5 1455.0,267.2 1455.9,270.6 1456.8,274.1 1457.1,303.8 1457.3,274.1 1457.6,276.0 1457.6,410.0" fill="#ffb8bb"/><polygon points="1462.8,410.0 1462.8,276.0 1463.7,276.0 1464.6,276.0 1465.5,275.1 1466.4,273.0 1467.3,270.9 1468.2,268.8 1468.5,277.7 1468.7,268.8 1469.1,267.2 1470.0,269.2 1470.9,271.2 1471.8,273.2 1472.1,282.1 1472.3,273.2 1472.7,275.1 1473.0,286.1 1473.2,275.1 1473.6,277.1 1474.5,279.1 1474.8,283.4 1475.0,279.1 1475.4,281.1 1475.7,306.7 1475.9,281.1 1476.3,283.6 1477.2,286.3 1477.5,306.4 1477.7,286.3 1478.1,289.0 1478.4,302.2 1478.6,289.0 1479.0,291.6 1479.3,294.6 1479.5,291.6 1479.9,294.3 1480.8,297.0 1481.1,301.3 1481.3,297.0 1481.7,298.7 1482.6,300.5 1483.5,302.0 1483.8,330.0 1484.0,302.0 1484.4,302.0 1485.3,302.0 1485.6,302.0 1485.6,410.0" fill="#ffb8bb"/><polygon points="1491.5,410.0 1491.5,323.0 1492.4,323.0 1492.7,333.2 1492.9,323.0 1493.3,323.0 1493.6,330.9 1493.8,323.0 1494.2,323.0 1495.1,323.0 1495.4,330.4 1495.6,323.0 1496.0,323.0 1496.3,329.2 1496.5,323.0 1496.9,323.0 1497.2,326.1 1497.4,323.0 1497.8,323.0 1498.7,323.0 1499.6,323.0 1499.9,326.8 1500.1,323.0 1500.5,323.3 1501.4,324.9 1502.3,326.4 1503.2,327.9 1504.1,329.4 1505.0,331.0 1505.3,346.5 1505.5,331.0 1505.9,332.5 1506.2,335.8 1506.4,332.5 1506.8,334.0 1507.1,338.6 1507.3,334.0 1507.7,334.0 1508.6,334.0 1508.9,342.8 1509.1,334.0 1509.5,334.0 1510.4,334.0 1510.5,334.0 1510.5,410.0" fill="#ffb8bb"/><polygon points="1521.6,417.0 1521.6,400.0 1522.5,400.0 1523.4,400.0 1523.7,406.8 1523.9,400.0 1524.3,398.5 1524.6,403.8 1524.8,398.5 1525.2,394.0 1526.1,389.5 1526.4,395.5 1526.6,389.5 1527.0,385.0 1527.9,380.8 1528.2,384.6 1528.4,380.8 1528.8,376.5 1529.7,372.3 1530.6,368.0 1531.5,363.8 1531.8,366.5 1532.0,363.8 1532.4,363.1 1532.7,368.5 1532.9,363.1 1533.3,364.2 1534.2,365.3 1535.1,366.4 1536.0,367.5 1536.9,368.7 1537.8,369.8 1538.1,372.9 1538.3,369.8 1538.7,370.8 1539.6,371.9 1540.5,372.9 1541.4,373.9 1541.7,376.9 1541.9,373.9 1542.3,375.0 1542.6,378.0 1542.8,375.0 1543.2,376.0 1544.1,377.1 1544.4,389.3 1544.6,377.1 1545.0,378.1 1545.9,379.1 1546.2,383.0 1546.4,379.1 1546.8,380.2 1547.7,381.5 1548.0,385.8 1548.2,381.5 1548.6,383.6 1549.5,385.7 1549.8,392.4 1550.0,385.7 1550.4,387.9 1550.7,394.2 1550.9,387.9 1551.3,390.0 1552.2,392.1 1552.5,394.1 1552.7,392.1 1553.1,394.0 1553.4,399.8 1553.6,394.0 1554.0,394.0 1554.3,396.1 1554.5,394.0 1554.9,394.0 1555.8,394.0 1556.7,394.0 1556.8,394.0 1556.8,417.0" fill="#ffb8bb"/><polygon points="1568.8,417.0 1568.8,400.0 1569.7,400.0 1570.6,400.0 1571.5,399.9 1572.4,399.8 1573.3,399.8 1574.2,399.7 1574.5,403.2 1574.7,399.7 1575.1,399.6 1576.0,399.5 1576.9,399.4 1577.2,402.0 1577.4,399.4 1577.8,399.6 1578.1,405.5 1578.3,399.6 1578.7,399.9 1579.6,400.2 1579.9,406.9 1580.1,400.2 1580.5,400.5 1581.4,400.8 1582.3,401.1 1583.2,401.4 1583.5,403.4 1583.7,401.4 1584.1,401.7 1585.0,402.0 1585.3,404.2 1585.5,402.0 1585.9,402.3 1586.2,404.3 1586.4,402.3 1586.8,402.6 1587.7,402.9 1588.6,403.4 1589.5,404.0 1590.4,404.6 1591.3,405.2 1592.2,405.8 1593.1,406.4 1594.0,407.0 1594.3,411.0 1594.5,407.0 1594.9,407.6 1595.8,408.2 1596.7,408.8 1597.6,409.0 1598.5,409.0 1598.8,411.5 1599.0,409.0 1599.4,409.0 1599.7,412.2 1599.9,409.0 1600.3,409.0 1601.2,409.0 1602.1,409.0 1603.0,409.0 1603.1,409.0 1603.1,417.0" fill="#ffb8bb"/></g>
<line x1="1430.5" y1="170" x2="1430.5" y2="368" stroke="#fff" stroke-width="0.8" opacity="0.8"/>
<rect x="1303.5" y="405" width="210" height="12.1" fill="#ffb8bb"/>
<rect x="1303.5" y="368" width="210" height="40.2" fill="#fff"/>
<text x="1304.21" y="400.00" font-size="31.5" fill="#f87878" textLength="216.65" lengthAdjust="spacingAndGlyphs">Solar irradiance</text>
<rect x="1665.1" y="188" width="2.9" height="229" fill="#9de2f9"/>
<g transform="translate(0,0)"><polygon points="1674.3,417.0 1674.3,225.0 1674.5,245.4 1674.8,225.0 1675.2,225.0 1676.1,202.4 1677.0,168.6 1677.3,173.6 1677.5,168.6 1677.9,185.5 1678.2,190.4 1678.4,185.5 1678.8,202.4 1679.7,219.4 1680.0,232.8 1680.2,219.4 1680.6,242.2 1680.9,248.4 1681.1,242.2 1681.5,268.0 1682.4,293.8 1683.3,311.0 1684.2,311.0 1684.5,316.8 1684.7,311.0 1685.1,311.0 1685.4,342.1 1685.6,311.0 1686.0,311.0 1686.9,311.0 1687.0,311.0 1687.0,417.0" fill="#9de2f9"/><polygon points="1741.5,338.0 1741.5,168.8 1742.4,168.8 1742.7,218.9 1742.9,168.8 1743.3,168.8 1743.6,256.4 1743.8,168.8 1744.2,165.7 1744.5,236.0 1744.7,165.7 1745.1,160.1 1746.0,155.7 1746.9,155.1 1747.8,154.5 1748.1,167.4 1748.3,154.5 1748.7,153.9 1749.6,153.3 1749.9,162.3 1750.1,153.3 1750.5,152.7 1750.8,219.7 1751.0,152.7 1751.4,152.1 1752.3,151.5 1753.2,151.7 1753.5,229.1 1753.7,151.7 1754.1,152.0 1755.0,152.2 1755.3,173.2 1755.5,152.2 1755.9,152.4 1756.8,152.6 1757.1,183.4 1757.3,152.6 1757.7,152.9 1758.6,153.1 1759.5,153.3 1760.4,153.5 1761.3,155.9 1762.2,162.3 1763.1,168.8 1764.0,175.2 1764.9,181.7 1765.8,197.5 1766.1,202.2 1766.3,197.5 1766.7,218.1 1767.0,297.6 1767.2,218.1 1767.6,238.6 1768.5,259.2 1769.4,259.2 1769.7,283.5 1769.9,259.2 1769.5,259.2 1769.5,338.0" fill="#9de2f9"/><polygon points="1772.8,338.0 1772.8,280.8 1773.7,280.8 1774.6,259.2 1775.5,235.0 1775.8,289.1 1776.0,235.0 1776.4,210.8 1777.3,192.5 1778.2,186.4 1778.5,189.5 1778.7,186.4 1779.1,180.2 1780.0,174.1 1780.9,167.9 1781.2,192.8 1781.4,167.9 1781.8,164.5 1782.7,164.5 1783.6,164.5 1784.5,164.5 1785.4,164.5 1786.3,164.5 1786.6,224.9 1786.8,164.5 1787.2,165.0 1788.1,166.2 1788.4,212.5 1788.6,166.2 1789.0,167.4 1789.9,168.6 1790.8,169.8 1791.1,198.2 1791.3,169.8 1791.7,171.0 1792.6,172.2 1793.5,173.4 1794.4,174.5 1794.7,254.3 1794.9,174.5 1795.3,175.6 1796.2,176.8 1797.1,177.9 1797.4,238.3 1797.6,177.9 1798.0,179.0 1798.9,180.2 1799.8,181.3 1800.1,196.3 1800.3,181.3 1800.7,182.4 1801.0,234.6 1801.2,182.4 1801.6,183.5 1802.5,184.7 1803.4,185.8 1804.3,186.9 1805.2,188.0 1806.1,189.1 1806.4,219.1 1806.6,189.1 1807.0,190.3 1807.9,191.4 1808.8,192.5 1809.7,193.6 1810.0,250.4 1810.2,193.6 1810.6,194.8 1810.9,229.5 1811.1,194.8 1811.5,196.6 1812.4,198.4 1813.3,200.2 1813.6,240.9 1813.8,200.2 1814.2,202.0 1815.1,203.6 1816.0,204.8 1816.9,206.0 1817.8,207.2 1818.7,208.4 1819.0,211.4 1819.2,208.4 1819.6,209.7 1820.5,210.9 1821.4,212.3 1822.3,214.6 1822.6,252.4 1822.8,214.6 1823.2,216.8 1824.1,219.1 1825.0,221.3 1825.3,303.0 1825.5,221.3 1825.9,223.6 1826.8,225.9 1827.1,256.6 1827.3,225.9 1827.7,228.1 1828.6,230.4 1829.5,232.6 1830.4,235.2 1831.3,237.9 1832.2,240.6 1833.1,243.2 1833.4,251.7 1833.6,243.2 1834.0,245.9 1834.3,250.0 1834.5,245.9 1834.9,248.6 1835.2,311.2 1835.4,248.6 1835.8,251.3 1836.7,255.0 1837.6,259.8 1838.5,264.6 1839.4,269.5 1839.7,317.4 1839.9,269.5 1840.3,270.0 1840.6,317.6 1840.8,270.0 1840.6,270.0 1840.6,338.0" fill="#9de2f9"/></g>
<rect x="1731.8" y="405" width="120.4" height="12.1" fill="#9de2f9"/>
<rect x="1700" y="337" width="186" height="71.4" fill="#fff"/>
<text x="1708.60" y="365.70" font-size="31.2" fill="#33b5e5" textLength="170.70" lengthAdjust="spacingAndGlyphs">Atmospheric</text>
<text x="1700.94" y="401.40" font-size="31.2" fill="#33b5e5" textLength="185.53" lengthAdjust="spacingAndGlyphs">transmittance</text>
<path d="M1303.6,104.7 C1304.4,105.5 1306.6,108.8 1308.7,109.8 C1310.8,110.8 1314.5,108.7 1316.4,110.7 C1318.3,112.7 1318.5,121.7 1320.3,121.7 C1322.1,121.7 1325.0,110.3 1327.5,110.7 C1330.0,111.1 1332.1,124.3 1335.1,124.0 C1338.1,123.7 1342.3,110.3 1345.4,108.6 C1348.5,106.9 1350.2,114.6 1353.9,113.7 C1357.6,112.8 1363.1,104.1 1367.5,103.0 C1371.9,101.9 1375.6,107.2 1380.3,106.9 C1385.0,106.6 1390.8,102.1 1395.6,101.3 C1400.4,100.5 1403.0,102.5 1409.3,102.1 C1415.5,101.7 1428.0,99.1 1433.1,98.7 C1438.2,98.3 1437.0,99.0 1440.0,99.8 C1443.0,100.6 1446.3,100.7 1450.8,103.4 C1455.3,106.1 1461.3,110.9 1467.0,116.0 C1472.7,121.1 1479.9,128.0 1485.0,134.0 C1490.1,140.0 1493.8,145.4 1497.7,152.0 C1501.6,158.6 1504.9,166.3 1508.5,173.8 C1512.1,181.3 1515.5,190.0 1519.4,197.2 C1523.3,204.4 1527.8,211.7 1532.0,217.0 C1536.2,222.3 1541.0,226.2 1544.6,228.8 C1548.2,231.4 1550.3,231.5 1553.6,232.4 C1556.9,233.3 1560.9,232.5 1564.5,234.2 C1568.1,235.8 1572.0,239.4 1575.3,242.3 C1578.6,245.2 1581.9,248.5 1584.3,251.4 C1586.7,254.3 1587.8,257.3 1589.7,260.0 C1591.6,262.7 1593.3,264.6 1595.7,267.8 C1598.1,271.0 1602.6,277.1 1604.0,279.0" fill="none" stroke="#47494f" stroke-width="3.5" stroke-linejoin="round" stroke-linecap="round"/>
<path d="M1645.0,183.9 C1645.8,183.2 1648.5,181.9 1650.0,179.9 C1651.5,177.9 1652.5,171.8 1654.0,171.8 C1655.5,171.8 1657.3,176.7 1659.0,179.9 C1660.7,183.1 1662.5,191.6 1664.0,190.9 C1665.5,190.2 1666.7,185.6 1668.0,175.8 C1669.3,165.9 1670.7,144.3 1672.0,131.8 C1673.3,119.3 1674.7,106.4 1676.0,100.7 C1677.3,95.0 1676.0,98.7 1680.0,97.7 C1684.0,96.7 1693.3,95.9 1700.0,94.7 C1706.7,93.5 1714.3,91.9 1720.0,90.7 C1725.7,89.5 1730.6,88.0 1734.3,87.7 C1738.0,87.4 1740.3,86.0 1742.3,88.7 C1744.3,91.4 1744.6,96.5 1746.3,103.7 C1748.0,110.9 1750.0,122.4 1752.3,131.8 C1754.6,141.1 1757.8,149.8 1760.3,159.8 C1762.8,169.8 1765.0,188.6 1767.3,191.9 C1769.6,195.2 1771.4,185.2 1774.3,179.9 C1777.2,174.6 1781.4,165.5 1784.4,159.8 C1787.4,154.1 1789.2,151.6 1792.4,145.8 C1795.6,140.0 1799.4,131.3 1803.8,125.2 C1808.2,119.1 1815.4,111.6 1819.0,109.0 C1822.6,106.4 1822.4,108.6 1825.5,109.6 C1828.6,110.6 1832.4,114.9 1837.4,114.8 C1842.5,114.7 1849.1,110.9 1855.8,109.0 C1862.5,107.1 1870.2,105.3 1877.4,103.6 C1884.6,101.9 1891.8,100.2 1899.0,98.8 C1906.2,97.3 1915.3,95.6 1920.7,94.9 C1926.1,94.2 1928.2,94.1 1931.5,94.5 C1934.8,94.9 1937.7,95.6 1940.2,97.1 C1942.7,98.6 1944.2,100.0 1946.7,103.6 C1949.2,107.2 1952.6,113.7 1955.3,118.7 C1958.0,123.7 1960.7,129.5 1962.9,133.8 C1965.1,138.1 1967.4,142.9 1968.3,144.7" fill="none" stroke="#47494f" stroke-width="3.5" stroke-linejoin="round" stroke-linecap="round"/>
<path d="M1302.8,103.9 C1303.5,104.2 1305.6,103.5 1307.0,105.6 C1308.4,107.7 1309.9,113.2 1311.3,116.6 C1312.7,120.0 1314.3,120.8 1315.6,126.0 C1316.9,131.2 1317.7,136.2 1319.0,148.1 C1320.3,160.0 1321.7,187.8 1323.2,197.5 C1324.8,207.2 1326.7,198.9 1328.3,206.0 C1329.9,213.1 1331.4,231.7 1332.6,240.0 C1333.8,248.3 1334.3,251.8 1335.4,256.0 C1336.5,260.2 1337.6,263.2 1339.0,265.0 C1340.4,266.8 1341.8,263.3 1343.8,266.9 C1345.8,270.4 1349.0,282.3 1351.2,286.3 C1353.4,290.3 1354.9,290.7 1356.7,291.0 C1358.5,291.3 1360.1,286.8 1362.3,288.2 C1364.5,289.6 1366.9,295.3 1369.7,299.3 C1372.5,303.3 1376.2,310.1 1379.0,312.3 C1381.8,314.5 1382.7,311.5 1386.4,312.3 C1390.1,313.1 1397.5,316.9 1401.2,317.0 C1404.9,317.1 1405.0,317.5 1408.7,313.2 C1412.4,308.9 1419.3,296.3 1423.5,291.0 C1427.7,285.7 1429.6,285.2 1433.9,281.5 C1438.2,277.8 1444.7,273.3 1449.5,268.5 C1454.3,263.7 1458.2,258.3 1462.5,252.9 C1466.8,247.5 1471.7,239.6 1475.6,235.9 C1479.5,232.2 1483.0,231.2 1486.0,230.7 C1489.0,230.1 1491.2,231.5 1493.8,232.6 C1496.4,233.7 1498.6,235.9 1501.6,237.2 C1504.6,238.5 1509.6,239.9 1512.0,240.4 C1514.4,240.9 1514.7,240.7 1516.0,239.9 C1517.3,239.2 1517.5,236.6 1519.9,235.9 C1522.3,235.2 1526.7,236.0 1530.2,235.5 C1533.7,235.0 1538.0,233.7 1541.0,233.0 C1544.0,232.3 1545.8,230.5 1548.2,231.2 C1550.6,231.9 1553.3,234.2 1555.4,237.0 C1557.5,239.8 1559.4,246.7 1560.9,247.7 C1562.4,248.7 1563.5,243.2 1564.5,243.2 C1565.5,243.2 1566.0,245.4 1567.2,247.7 C1568.4,249.9 1569.3,253.0 1571.6,256.7 C1573.9,260.4 1578.2,266.8 1581.0,269.7 C1583.8,272.6 1586.1,272.8 1588.3,274.3 C1590.5,275.9 1591.3,277.0 1593.9,279.0 C1596.5,281.0 1602.3,285.1 1604.0,286.3" fill="none" stroke="#c4aa7e" stroke-width="3.5" stroke-linejoin="round" stroke-linecap="round"/>
<path d="M1645.0,182.3 C1645.8,181.6 1648.5,180.3 1650.0,178.3 C1651.5,176.3 1652.5,170.2 1654.0,170.2 C1655.5,170.2 1657.3,175.1 1659.0,178.3 C1660.7,181.5 1662.5,190.0 1664.0,189.3 C1665.5,188.6 1666.7,184.0 1668.0,174.2 C1669.3,164.3 1670.7,142.7 1672.0,130.2 C1673.3,117.7 1674.7,104.8 1676.0,99.1 C1677.3,93.4 1676.0,97.1 1680.0,96.1 C1684.0,95.1 1693.3,94.3 1700.0,93.1 C1706.7,91.9 1714.3,90.3 1720.0,89.1 C1725.7,87.9 1730.6,86.4 1734.3,86.1 C1738.0,85.8 1740.3,84.4 1742.3,87.1 C1744.3,89.8 1744.6,94.9 1746.3,102.1 C1748.0,109.3 1750.0,120.8 1752.3,130.2 C1754.6,139.5 1757.8,148.2 1760.3,158.2 C1762.8,168.2 1765.0,187.0 1767.3,190.3 C1769.6,193.7 1771.4,183.7 1774.3,178.3 C1777.2,173.0 1781.4,163.9 1784.4,158.2 C1787.4,152.5 1789.2,150.0 1792.4,144.2 C1795.6,138.4 1799.4,129.7 1803.8,123.6 C1808.2,117.5 1815.4,110.0 1819.0,107.4 C1822.6,104.8 1822.4,107.0 1825.5,108.0 C1828.6,109.0 1832.4,113.3 1837.4,113.2 C1842.5,113.1 1849.1,109.3 1855.8,107.4 C1862.5,105.5 1870.2,103.7 1877.4,102.0 C1884.6,100.3 1891.8,98.7 1899.0,97.2 C1906.2,95.8 1915.3,94.0 1920.7,93.3 C1926.1,92.6 1928.2,92.5 1931.5,92.9 C1934.8,93.3 1937.7,94.0 1940.2,95.5 C1942.7,97.0 1944.2,98.4 1946.7,102.0 C1949.2,105.6 1952.6,112.1 1955.3,117.1 C1958.0,122.1 1960.7,127.9 1962.9,132.2 C1965.1,136.5 1967.4,141.3 1968.3,143.1" fill="none" stroke="#c4aa7e" stroke-width="3.5" stroke-linejoin="round" stroke-linecap="round"/>
<line x1="1299" y1="83.1" x2="1299" y2="418.3" stroke="#000" stroke-width="2.6"/>
<line x1="1970.3" y1="83.1" x2="1970.3" y2="418.3" stroke="#000" stroke-width="2.6"/>
<line x1="1294" y1="417.1" x2="1623.6" y2="417.1" stroke="#000" stroke-width="2.6"/>
<line x1="1642.3" y1="417.1" x2="1971.6" y2="417.1" stroke="#000" stroke-width="2.6"/>
<line x1="1293.8" y1="417.1" x2="1299" y2="417.1" stroke="#000" stroke-width="2.2"/>
<line x1="1970.3" y1="417.1" x2="1974.6" y2="417.1" stroke="#000" stroke-width="2.2"/>
<line x1="1293.8" y1="333.9" x2="1299" y2="333.9" stroke="#000" stroke-width="2.2"/>
<line x1="1970.3" y1="333.9" x2="1974.6" y2="333.9" stroke="#000" stroke-width="2.2"/>
<line x1="1293.8" y1="250.6" x2="1299" y2="250.6" stroke="#000" stroke-width="2.2"/>
<line x1="1970.3" y1="250.6" x2="1974.6" y2="250.6" stroke="#000" stroke-width="2.2"/>
<line x1="1293.8" y1="167.4" x2="1299" y2="167.4" stroke="#000" stroke-width="2.2"/>
<line x1="1970.3" y1="167.4" x2="1974.6" y2="167.4" stroke="#000" stroke-width="2.2"/>
<line x1="1293.8" y1="84.1" x2="1299" y2="84.1" stroke="#000" stroke-width="2.2"/>
<line x1="1970.3" y1="84.1" x2="1974.6" y2="84.1" stroke="#000" stroke-width="2.2"/>
<line x1="1328.0" y1="417.1" x2="1328.0" y2="421.7" stroke="#000" stroke-width="2.2"/>
<line x1="1426.0" y1="417.1" x2="1426.0" y2="421.7" stroke="#000" stroke-width="2.2"/>
<line x1="1572.1" y1="417.1" x2="1572.1" y2="421.7" stroke="#000" stroke-width="2.2"/>
<line x1="1665.1" y1="417.1" x2="1665.1" y2="421.7" stroke="#000" stroke-width="2.2"/>
<line x1="1741.1" y1="417.1" x2="1741.1" y2="421.7" stroke="#000" stroke-width="2.2"/>
<line x1="1836.1" y1="417.1" x2="1836.1" y2="421.7" stroke="#000" stroke-width="2.2"/>
<line x1="1969.1" y1="417.1" x2="1969.1" y2="421.7" stroke="#000" stroke-width="2.2"/>
<text x="1235.13" y="99.60" font-size="37.7" fill="#000" textLength="49.52" lengthAdjust="spacingAndGlyphs">1.0</text>
<text x="1214.86" y="182.90" font-size="37.7" fill="#000" textLength="70.03" lengthAdjust="spacingAndGlyphs">0.75</text>
<text x="1234.52" y="266.40" font-size="37.7" fill="#000" textLength="51.36" lengthAdjust="spacingAndGlyphs">0.5</text>
<text x="1214.94" y="348.80" font-size="37.7" fill="#000" textLength="70.97" lengthAdjust="spacingAndGlyphs">0.25</text>
<text x="1265.05" y="430.60" font-size="37.7" fill="#000" textLength="20.16" lengthAdjust="spacingAndGlyphs">0</text>
<text x="1295.35" y="456.80" font-size="37.7" fill="#000" textLength="70.55" lengthAdjust="spacingAndGlyphs">0.38</text>
<text x="1392.66" y="456.80" font-size="37.7" fill="#000" textLength="70.28" lengthAdjust="spacingAndGlyphs">0.74</text>
<text x="1562.62" y="456.80" font-size="37.7" fill="#000" textLength="22.00" lengthAdjust="spacingAndGlyphs">2</text>
<text x="1656.30" y="457.00" font-size="37.7" fill="#000" textLength="19.60" lengthAdjust="spacingAndGlyphs">4</text>
<text x="1732.79" y="456.90" font-size="37.7" fill="#000" textLength="21.18" lengthAdjust="spacingAndGlyphs">8</text>
<text x="1818.31" y="456.90" font-size="37.7" fill="#000" textLength="39.91" lengthAdjust="spacingAndGlyphs">13</text>
<text x="1949.37" y="456.90" font-size="37.7" fill="#000" textLength="40.70" lengthAdjust="spacingAndGlyphs">20</text>
<line x1="1620" y1="97" x2="1629.4" y2="72.4" stroke="#000" stroke-width="2.2"/>
<line x1="1634" y1="97" x2="1643.8" y2="72.4" stroke="#000" stroke-width="2.2"/>
<line x1="1619.5" y1="428.6" x2="1630.3" y2="404.3" stroke="#000" stroke-width="2.2"/>
<line x1="1633.8" y1="428.6" x2="1644.4" y2="404.3" stroke="#000" stroke-width="2.2"/>
<text x="1509.82" y="491.50" font-size="38.5" fill="#000" textLength="270.58" lengthAdjust="spacingAndGlyphs">Wavelength (μm)</text>
<text transform="translate(1197,448.6) rotate(-90)" x="0" y="0" font-size="38.5" textLength="391.8" lengthAdjust="spacingAndGlyphs">Absorptance (emittance)</text>
<line x1="1522.8" y1="132.5" x2="1581.1" y2="132.5" stroke="#000" stroke-width="4.9"/>
<line x1="1522.8" y1="169.5" x2="1581.1" y2="169.5" stroke="#c4aa7e" stroke-width="4.9"/>
<text x="1586.85" y="141.90" font-size="32.6" fill="#000" textLength="38.01" lengthAdjust="spacingAndGlyphs">2V</text>
<text x="1587.17" y="181.90" font-size="32.6" fill="#8c7350" textLength="37.69" lengthAdjust="spacingAndGlyphs">0V</text>
<rect x="1298" y="549.5" width="367.8" height="28.4" fill="#c9c9c9"/>
<rect x="1665.8" y="549.5" width="304.6" height="28.4" fill="#ade0f5"/>
<rect x="1328" y="549.5" width="98.4" height="28.4" fill="url(#spec)"/>
<line x1="1298" y1="578.1" x2="1628.4" y2="578.1" stroke="#2a2a2a" stroke-width="2"/>
<line x1="1640.7" y1="578.1" x2="1971" y2="578.1" stroke="#2a2a2a" stroke-width="2"/>
<g transform="translate(0,492.5)"><polygon points="1303.8,410.0 1303.8,368.0 1304.7,368.0 1305.6,360.4 1306.5,351.9 1307.4,343.4 1308.3,334.9 1308.6,337.9 1308.8,334.9 1309.2,331.1 1310.1,328.6 1311.0,326.2 1311.9,323.7 1312.8,321.3 1313.7,318.8 1314.6,314.7 1315.5,309.7 1316.4,304.8 1316.7,338.8 1316.9,304.8 1317.3,299.8 1318.2,295.1 1319.1,291.0 1320.0,286.9 1320.9,282.8 1321.2,330.1 1321.4,282.8 1321.8,278.8 1322.7,274.7 1323.6,270.8 1323.9,331.5 1324.1,270.8 1324.5,267.6 1325.4,264.3 1326.3,261.1 1327.2,257.9 1328.1,254.7 1329.0,251.7 1329.9,248.8 1330.8,245.9 1331.7,242.9 1332.6,240.0 1333.5,237.6 1333.8,242.1 1334.0,237.6 1334.4,235.3 1334.7,310.0 1334.9,235.3 1335.3,182.7 1336.2,180.2 1337.1,177.8 1338.0,175.3 1338.9,172.8 1339.8,170.3 1340.7,167.8 1341.6,166.6 1342.5,166.0 1343.4,165.4 1344.3,164.8 1345.2,164.2 1346.1,163.5 1347.0,162.1 1347.9,153.7 1348.2,213.7 1348.4,153.7 1348.8,145.3 1349.7,136.9 1350.6,132.8 1351.5,129.2 1352.4,119.5 1352.7,175.7 1352.9,119.5 1353.3,106.7 1354.2,100.8 1355.1,100.4 1355.4,159.6 1355.6,100.4 1356.0,100.1 1356.9,99.7 1357.2,152.0 1357.4,99.7 1357.8,99.3 1358.7,98.8 1359.0,108.4 1359.2,98.8 1359.6,96.9 1360.5,95.1 1361.4,93.3 1361.7,125.3 1361.9,93.3 1362.3,91.4 1362.6,134.2 1362.8,91.4 1363.2,92.1 1364.1,93.5 1365.0,94.8 1365.9,96.2 1366.8,96.6 1367.7,95.7 1368.6,94.8 1368.9,125.5 1369.1,94.8 1369.5,93.9 1369.8,99.9 1370.0,93.9 1370.4,93.0 1371.3,93.5 1372.2,93.9 1372.5,97.1 1372.7,93.9 1373.1,94.4 1374.0,94.8 1374.9,95.3 1375.8,95.8 1376.7,96.2 1377.6,96.7 1378.5,97.6 1379.4,99.4 1380.3,101.2 1381.2,102.9 1382.1,104.7 1383.0,106.5 1383.9,108.3 1384.8,108.0 1385.7,107.3 1386.6,106.7 1387.5,106.1 1388.4,105.5 1389.3,104.9 1390.2,105.5 1391.1,108.7 1391.4,124.9 1391.6,108.7 1392.0,111.8 1392.9,114.9 1393.2,147.1 1393.4,114.9 1393.8,118.0 1394.7,118.9 1395.0,152.2 1395.2,118.9 1395.6,119.8 1396.5,120.7 1397.4,121.7 1398.3,122.6 1399.2,123.5 1400.1,124.4 1400.4,127.7 1400.6,124.4 1401.0,125.3 1401.9,126.3 1402.8,127.2 1403.7,128.1 1404.6,129.1 1405.5,130.0 1406.4,130.6 1407.3,131.2 1408.2,131.8 1409.1,132.4 1410.0,133.1 1410.9,133.7 1411.8,135.1 1412.7,137.4 1413.0,165.4 1413.2,137.4 1413.6,139.8 1414.5,142.1 1415.4,144.5 1416.3,146.9 1417.2,149.2 1418.1,151.1 1418.4,168.7 1418.6,151.1 1419.0,153.0 1419.9,155.0 1420.2,166.0 1420.4,155.0 1420.8,157.2 1421.7,159.4 1422.6,161.6 1423.5,163.8 1424.4,166.0 1424.7,177.7 1424.9,166.0 1425.3,167.3 1426.2,167.9 1427.1,168.5 1428.0,169.1 1428.9,170.0 1429.2,194.6 1429.4,170.0 1429.8,172.5 1430.1,225.6 1430.3,172.5 1430.7,174.9 1431.6,177.3 1431.9,186.3 1432.1,177.3 1432.5,179.7 1433.4,182.8 1434.3,185.9 1435.2,189.0 1436.1,192.1 1436.4,201.7 1436.6,192.1 1437.0,195.2 1437.9,198.3 1438.8,201.1 1439.7,203.8 1440.6,206.6 1441.5,209.4 1442.4,212.2 1443.3,214.3 1443.6,217.3 1443.8,214.3 1444.2,215.2 1445.1,216.0 1446.0,216.9 1446.9,217.8 1447.8,218.6 1448.7,220.3 1449.6,222.6 1450.5,224.9 1451.4,227.2 1452.3,231.8 1453.2,244.7 1454.1,257.5 1455.0,267.2 1455.9,270.6 1456.8,274.1 1457.1,303.8 1457.3,274.1 1457.6,276.0 1457.6,410.0" fill="#ffb8bb"/><polygon points="1462.8,410.0 1462.8,276.0 1463.7,276.0 1464.6,276.0 1465.5,275.1 1466.4,273.0 1467.3,270.9 1468.2,268.8 1468.5,277.7 1468.7,268.8 1469.1,267.2 1470.0,269.2 1470.9,271.2 1471.8,273.2 1472.1,282.1 1472.3,273.2 1472.7,275.1 1473.0,286.1 1473.2,275.1 1473.6,277.1 1474.5,279.1 1474.8,283.4 1475.0,279.1 1475.4,281.1 1475.7,306.7 1475.9,281.1 1476.3,283.6 1477.2,286.3 1477.5,306.4 1477.7,286.3 1478.1,289.0 1478.4,302.2 1478.6,289.0 1479.0,291.6 1479.3,294.6 1479.5,291.6 1479.9,294.3 1480.8,297.0 1481.1,301.3 1481.3,297.0 1481.7,298.7 1482.6,300.5 1483.5,302.0 1483.8,330.0 1484.0,302.0 1484.4,302.0 1485.3,302.0 1485.6,302.0 1485.6,410.0" fill="#ffb8bb"/><polygon points="1491.5,410.0 1491.5,323.0 1492.4,323.0 1492.7,333.2 1492.9,323.0 1493.3,323.0 1493.6,330.9 1493.8,323.0 1494.2,323.0 1495.1,323.0 1495.4,330.4 1495.6,323.0 1496.0,323.0 1496.3,329.2 1496.5,323.0 1496.9,323.0 1497.2,326.1 1497.4,323.0 1497.8,323.0 1498.7,323.0 1499.6,323.0 1499.9,326.8 1500.1,323.0 1500.5,323.3 1501.4,324.9 1502.3,326.4 1503.2,327.9 1504.1,329.4 1505.0,331.0 1505.3,346.5 1505.5,331.0 1505.9,332.5 1506.2,335.8 1506.4,332.5 1506.8,334.0 1507.1,338.6 1507.3,334.0 1507.7,334.0 1508.6,334.0 1508.9,342.8 1509.1,334.0 1509.5,334.0 1510.4,334.0 1510.5,334.0 1510.5,410.0" fill="#ffb8bb"/><polygon points="1521.6,417.0 1521.6,400.0 1522.5,400.0 1523.4,400.0 1523.7,406.8 1523.9,400.0 1524.3,398.5 1524.6,403.8 1524.8,398.5 1525.2,394.0 1526.1,389.5 1526.4,395.5 1526.6,389.5 1527.0,385.0 1527.9,380.8 1528.2,384.6 1528.4,380.8 1528.8,376.5 1529.7,372.3 1530.6,368.0 1531.5,363.8 1531.8,366.5 1532.0,363.8 1532.4,363.1 1532.7,368.5 1532.9,363.1 1533.3,364.2 1534.2,365.3 1535.1,366.4 1536.0,367.5 1536.9,368.7 1537.8,369.8 1538.1,372.9 1538.3,369.8 1538.7,370.8 1539.6,371.9 1540.5,372.9 1541.4,373.9 1541.7,376.9 1541.9,373.9 1542.3,375.0 1542.6,378.0 1542.8,375.0 1543.2,376.0 1544.1,377.1 1544.4,389.3 1544.6,377.1 1545.0,378.1 1545.9,379.1 1546.2,383.0 1546.4,379.1 1546.8,380.2 1547.7,381.5 1548.0,385.8 1548.2,381.5 1548.6,383.6 1549.5,385.7 1549.8,392.4 1550.0,385.7 1550.4,387.9 1550.7,394.2 1550.9,387.9 1551.3,390.0 1552.2,392.1 1552.5,394.1 1552.7,392.1 1553.1,394.0 1553.4,399.8 1553.6,394.0 1554.0,394.0 1554.3,396.1 1554.5,394.0 1554.9,394.0 1555.8,394.0 1556.7,394.0 1556.8,394.0 1556.8,417.0" fill="#ffb8bb"/><polygon points="1568.8,417.0 1568.8,400.0 1569.7,400.0 1570.6,400.0 1571.5,399.9 1572.4,399.8 1573.3,399.8 1574.2,399.7 1574.5,403.2 1574.7,399.7 1575.1,399.6 1576.0,399.5 1576.9,399.4 1577.2,402.0 1577.4,399.4 1577.8,399.6 1578.1,405.5 1578.3,399.6 1578.7,399.9 1579.6,400.2 1579.9,406.9 1580.1,400.2 1580.5,400.5 1581.4,400.8 1582.3,401.1 1583.2,401.4 1583.5,403.4 1583.7,401.4 1584.1,401.7 1585.0,402.0 1585.3,404.2 1585.5,402.0 1585.9,402.3 1586.2,404.3 1586.4,402.3 1586.8,402.6 1587.7,402.9 1588.6,403.4 1589.5,404.0 1590.4,404.6 1591.3,405.2 1592.2,405.8 1593.1,406.4 1594.0,407.0 1594.3,411.0 1594.5,407.0 1594.9,407.6 1595.8,408.2 1596.7,408.8 1597.6,409.0 1598.5,409.0 1598.8,411.5 1599.0,409.0 1599.4,409.0 1599.7,412.2 1599.9,409.0 1600.3,409.0 1601.2,409.0 1602.1,409.0 1603.0,409.0 1603.1,409.0 1603.1,417.0" fill="#ffb8bb"/></g>
<line x1="1430.5" y1="662.5" x2="1430.5" y2="860.5" stroke="#fff" stroke-width="0.8" opacity="0.8"/>
<rect x="1303.5" y="897.5" width="210" height="12.1" fill="#ffb8bb"/>
<rect x="1303.5" y="860.5" width="210" height="40.2" fill="#fff"/>
<text x="1304.21" y="892.50" font-size="31.5" fill="#f87878" textLength="216.65" lengthAdjust="spacingAndGlyphs">Solar irradiance</text>
<rect x="1665.1" y="654.5" width="2.9" height="255" fill="#9de2f9"/>
<g transform="translate(0,492.5)"><polygon points="1674.3,417.0 1674.3,225.0 1674.5,245.4 1674.8,225.0 1675.2,225.0 1676.1,202.4 1677.0,168.6 1677.3,173.6 1677.5,168.6 1677.9,185.5 1678.2,190.4 1678.4,185.5 1678.8,202.4 1679.7,219.4 1680.0,232.8 1680.2,219.4 1680.6,242.2 1680.9,248.4 1681.1,242.2 1681.5,268.0 1682.4,293.8 1683.3,311.0 1684.2,311.0 1684.5,316.8 1684.7,311.0 1685.1,311.0 1685.4,342.1 1685.6,311.0 1686.0,311.0 1686.9,311.0 1687.0,311.0 1687.0,417.0" fill="#9de2f9"/><polygon points="1741.5,338.0 1741.5,168.8 1742.4,168.8 1742.7,218.9 1742.9,168.8 1743.3,168.8 1743.6,256.4 1743.8,168.8 1744.2,165.7 1744.5,236.0 1744.7,165.7 1745.1,160.1 1746.0,155.7 1746.9,155.1 1747.8,154.5 1748.1,167.4 1748.3,154.5 1748.7,153.9 1749.6,153.3 1749.9,162.3 1750.1,153.3 1750.5,152.7 1750.8,219.7 1751.0,152.7 1751.4,152.1 1752.3,151.5 1753.2,151.7 1753.5,229.1 1753.7,151.7 1754.1,152.0 1755.0,152.2 1755.3,173.2 1755.5,152.2 1755.9,152.4 1756.8,152.6 1757.1,183.4 1757.3,152.6 1757.7,152.9 1758.6,153.1 1759.5,153.3 1760.4,153.5 1761.3,155.9 1762.2,162.3 1763.1,168.8 1764.0,175.2 1764.9,181.7 1765.8,197.5 1766.1,202.2 1766.3,197.5 1766.7,218.1 1767.0,297.6 1767.2,218.1 1767.6,238.6 1768.5,259.2 1769.4,259.2 1769.7,283.5 1769.9,259.2 1769.5,259.2 1769.5,338.0" fill="#9de2f9"/><polygon points="1772.8,338.0 1772.8,280.8 1773.7,280.8 1774.6,259.2 1775.5,235.0 1775.8,289.1 1776.0,235.0 1776.4,210.8 1777.3,192.5 1778.2,186.4 1778.5,189.5 1778.7,186.4 1779.1,180.2 1780.0,174.1 1780.9,167.9 1781.2,192.8 1781.4,167.9 1781.8,164.5 1782.7,164.5 1783.6,164.5 1784.5,164.5 1785.4,164.5 1786.3,164.5 1786.6,224.9 1786.8,164.5 1787.2,165.0 1788.1,166.2 1788.4,212.5 1788.6,166.2 1789.0,167.4 1789.9,168.6 1790.8,169.8 1791.1,198.2 1791.3,169.8 1791.7,171.0 1792.6,172.2 1793.5,173.4 1794.4,174.5 1794.7,254.3 1794.9,174.5 1795.3,175.6 1796.2,176.8 1797.1,177.9 1797.4,238.3 1797.6,177.9 1798.0,179.0 1798.9,180.2 1799.8,181.3 1800.1,196.3 1800.3,181.3 1800.7,182.4 1801.0,234.6 1801.2,182.4 1801.6,183.5 1802.5,184.7 1803.4,185.8 1804.3,186.9 1805.2,188.0 1806.1,189.1 1806.4,219.1 1806.6,189.1 1807.0,190.3 1807.9,191.4 1808.8,192.5 1809.7,193.6 1810.0,250.4 1810.2,193.6 1810.6,194.8 1810.9,229.5 1811.1,194.8 1811.5,196.6 1812.4,198.4 1813.3,200.2 1813.6,240.9 1813.8,200.2 1814.2,202.0 1815.1,203.6 1816.0,204.8 1816.9,206.0 1817.8,207.2 1818.7,208.4 1819.0,211.4 1819.2,208.4 1819.6,209.7 1820.5,210.9 1821.4,212.3 1822.3,214.6 1822.6,252.4 1822.8,214.6 1823.2,216.8 1824.1,219.1 1825.0,221.3 1825.3,303.0 1825.5,221.3 1825.9,223.6 1826.8,225.9 1827.1,256.6 1827.3,225.9 1827.7,228.1 1828.6,230.4 1829.5,232.6 1830.4,235.2 1831.3,237.9 1832.2,240.6 1833.1,243.2 1833.4,251.7 1833.6,243.2 1834.0,245.9 1834.3,250.0 1834.5,245.9 1834.9,248.6 1835.2,311.2 1835.4,248.6 1835.8,251.3 1836.7,255.0 1837.6,259.8 1838.5,264.6 1839.4,269.5 1839.7,317.4 1839.9,269.5 1840.3,270.0 1840.6,317.6 1840.8,270.0 1840.6,270.0 1840.6,338.0" fill="#9de2f9"/></g>
<rect x="1731.8" y="897.5" width="120.4" height="12.1" fill="#9de2f9"/>
<rect x="1700" y="829.5" width="186" height="71.4" fill="#fff"/>
<text x="1708.60" y="858.20" font-size="31.2" fill="#33b5e5" textLength="170.70" lengthAdjust="spacingAndGlyphs">Atmospheric</text>
<text x="1700.94" y="893.90" font-size="31.2" fill="#33b5e5" textLength="185.53" lengthAdjust="spacingAndGlyphs">transmittance</text>
<path d="M1302.8,593.0 C1304.7,593.4 1310.9,594.5 1313.9,595.2 C1316.9,595.9 1317.9,596.0 1320.7,597.3 C1323.5,598.6 1328.5,602.6 1330.9,603.2 C1333.3,603.8 1333.7,600.5 1335.1,601.0 C1336.5,601.5 1337.8,605.9 1339.4,606.1 C1341.0,606.3 1342.8,603.2 1344.5,602.4 C1346.2,601.6 1348.2,600.8 1349.6,601.2 C1351.0,601.6 1351.9,605.4 1353.0,604.9 C1354.1,604.4 1354.7,599.5 1356.4,598.1 C1358.1,596.7 1360.7,597.1 1363.3,596.4 C1365.9,595.7 1369.0,594.0 1371.8,593.9 C1374.6,593.8 1378.5,595.6 1380.3,595.6 C1382.1,595.6 1380.8,593.5 1382.8,593.9 C1384.8,594.3 1389.2,598.0 1392.2,598.1 C1395.2,598.2 1397.9,594.1 1400.7,594.7 C1403.5,595.3 1406.6,601.5 1409.3,601.5 C1412.0,601.5 1413.8,594.7 1416.9,594.7 C1420.0,594.7 1423.9,601.5 1428.0,601.5 C1432.1,601.5 1437.9,595.1 1441.6,594.7 C1445.3,594.3 1447.4,597.7 1450.1,599.0 C1452.8,600.3 1454.9,602.1 1458.0,602.5 C1461.1,602.9 1465.0,602.8 1468.9,601.6 C1472.8,600.4 1478.2,595.8 1481.5,595.3 C1484.8,594.8 1485.5,596.6 1488.7,598.9 C1491.9,601.1 1497.4,607.8 1500.4,608.8 C1503.4,609.8 1504.3,607.3 1506.7,605.2 C1509.1,603.1 1512.8,597.0 1514.9,596.2 C1517.0,595.5 1517.5,597.6 1519.4,600.7 C1521.4,603.9 1524.5,611.8 1526.6,615.1 C1528.7,618.4 1530.0,620.2 1532.0,620.5 C1534.0,620.8 1536.3,618.7 1538.3,616.9 C1540.2,615.1 1542.0,609.7 1543.7,609.7 C1545.4,609.7 1546.4,614.5 1548.2,616.9 C1550.0,619.3 1552.7,623.8 1554.5,624.1 C1556.3,624.4 1556.9,622.3 1559.0,618.7 C1561.1,615.1 1564.9,604.3 1567.2,602.5 C1569.5,600.7 1570.9,603.1 1572.6,607.9 C1574.2,612.7 1576.0,625.3 1577.1,631.3 C1578.1,637.3 1578.3,642.8 1578.9,644.0 C1579.5,645.2 1579.8,634.6 1580.7,638.5 C1581.6,642.4 1583.1,665.6 1584.3,667.4 C1585.5,669.2 1586.7,652.1 1587.9,649.4 C1589.1,646.7 1590.0,652.4 1591.5,651.2 C1593.0,650.0 1595.7,644.0 1596.9,642.2 C1598.1,640.4 1597.8,644.8 1598.7,640.3 C1599.6,635.8 1601.5,617.5 1602.3,615.1 C1603.0,612.7 1602.8,624.7 1603.2,625.9 C1603.6,627.1 1604.3,622.9 1604.5,622.3" fill="none" stroke="#4a4046" stroke-width="3.5" stroke-linejoin="round" stroke-linecap="round"/>
<path d="M1640.2,701.9 C1640.2,692.5 1640.0,615.0 1640.2,608.1 C1640.4,601.2 1642.1,633.9 1642.5,633.2 C1642.9,632.5 1644.0,598.7 1644.4,600.9 C1644.8,603.1 1645.8,649.8 1646.2,655.0 C1646.7,660.2 1648.5,658.4 1648.9,653.2 C1649.4,648.0 1650.2,607.9 1650.7,602.7 C1651.2,597.5 1653.0,600.4 1653.4,600.9 C1653.9,601.4 1654.7,602.5 1655.2,608.1 C1655.7,613.7 1658.1,655.4 1658.8,656.8 C1659.5,658.2 1661.8,622.9 1662.4,622.5 C1663.0,622.1 1664.5,653.9 1665.1,653.2 C1665.7,652.5 1667.8,614.9 1668.3,615.3 C1668.8,615.7 1670.1,655.9 1670.5,656.8 C1670.9,657.7 1671.8,623.8 1672.3,624.3 C1672.8,624.8 1674.4,663.8 1675.0,662.2 C1675.6,660.6 1677.9,608.1 1678.6,608.1 C1679.3,608.1 1681.5,663.1 1682.2,662.2 C1682.9,661.3 1685.1,601.4 1685.8,599.1 C1686.5,596.8 1688.8,639.1 1689.4,638.8 C1690.0,638.5 1691.6,601.1 1692.2,596.4 C1692.8,591.7 1695.3,593.3 1695.8,591.9 C1696.3,590.5 1697.2,576.7 1697.6,582.8 C1698.0,588.9 1699.0,650.9 1699.4,653.2 C1699.9,655.6 1701.4,611.5 1702.1,606.3 C1702.8,601.1 1705.2,601.9 1706.6,600.9 C1707.9,599.9 1713.9,597.1 1715.6,596.4 C1717.3,595.7 1722.8,593.5 1723.7,593.7 C1724.6,593.9 1724.1,598.7 1724.6,598.2 C1725.1,597.7 1728.5,587.9 1729.1,588.3 C1729.7,588.8 1730.4,603.2 1730.9,602.7 C1731.4,602.2 1733.9,583.3 1734.5,583.7 C1735.1,584.1 1736.6,599.2 1737.2,606.3 C1737.8,613.4 1740.0,654.1 1740.9,655.0 C1741.8,655.9 1745.0,621.8 1746.3,615.3 C1747.6,608.8 1753.1,589.2 1754.4,590.1 C1755.7,591.0 1758.1,620.3 1758.9,624.3 C1759.7,628.3 1761.4,631.0 1762.5,629.7 C1763.6,628.4 1768.5,614.4 1769.7,611.7 C1770.9,609.0 1773.6,602.0 1774.2,602.7 C1774.8,603.4 1775.4,618.2 1776.0,618.9 C1776.6,619.6 1779.0,611.3 1780.5,609.9 C1782.0,608.5 1789.8,605.1 1791.4,604.5 C1793.0,603.9 1794.3,603.5 1796.2,603.5 C1798.1,603.5 1808.1,604.4 1810.6,604.5 C1813.1,604.6 1818.6,604.8 1821.0,604.5 C1823.4,604.2 1832.8,600.4 1834.4,601.4 C1836.1,602.4 1837.0,614.8 1837.5,614.9 C1838.0,615.0 1838.5,604.0 1839.5,602.5 C1840.5,601.0 1846.6,599.2 1847.8,600.4 C1849.0,601.6 1850.9,614.3 1851.9,614.9 C1852.9,615.5 1857.5,607.4 1858.1,606.6" fill="none" stroke="#4a4046" stroke-width="3.4" stroke-linejoin="round" stroke-linecap="round"/>
<path d="M1858.1,606.6 C1858.8,609.1 1860.5,620.9 1862.2,621.9 C1863.9,622.9 1866.2,602.3 1868.4,612.6 C1870.7,622.9 1873.9,678.5 1875.7,683.8 C1877.5,689.1 1878.0,642.7 1879.2,644.6 C1880.4,646.5 1881.7,695.5 1882.9,695.2 C1884.1,694.9 1885.2,641.7 1886.4,642.6 C1887.6,643.5 1889.0,701.6 1890.1,700.4 C1891.2,699.2 1892.2,634.3 1893.2,635.3 C1894.2,636.3 1895.1,706.3 1896.3,706.5 C1897.5,706.7 1899.2,636.4 1900.4,636.4 C1901.6,636.4 1902.3,707.7 1903.5,706.5 C1904.7,705.3 1906.2,630.0 1907.6,629.1 C1909.0,628.2 1910.5,703.1 1911.8,701.4 C1913.1,699.7 1914.0,622.1 1915.3,618.8 C1916.6,615.5 1918.2,684.4 1919.6,681.8 C1921.0,679.2 1922.3,606.8 1923.7,603.3 C1925.1,599.8 1926.5,662.5 1927.9,661.1 C1929.4,659.7 1930.9,599.4 1932.4,595.1 C1933.9,590.8 1935.5,635.8 1937.0,635.3 C1938.5,634.8 1940.2,596.1 1941.7,592.0 C1943.2,587.9 1944.2,609.9 1945.8,610.6 C1947.3,611.3 1948.8,598.2 1951.0,596.1 C1953.2,594.0 1956.5,597.5 1959.2,598.2 C1962.0,598.9 1965.7,599.7 1967.5,600.2 C1969.3,600.7 1969.6,600.9 1970.0,601.0" fill="none" stroke="#4a4046" stroke-width="3.5" stroke-linejoin="round" stroke-linecap="round"/>
<path d="M1302.8,593.0 C1303.7,593.3 1310.7,594.8 1312.1,595.6 C1313.5,596.5 1315.6,601.3 1316.4,601.5 C1317.2,601.7 1319.1,596.2 1319.8,597.3 C1320.5,598.4 1322.4,610.4 1323.2,612.6 C1324.0,614.8 1326.7,618.8 1327.5,619.4 C1328.3,620.0 1330.1,618.4 1330.9,618.6 C1331.7,618.8 1334.3,615.6 1335.1,621.1 C1335.9,626.6 1337.4,670.6 1338.6,673.9 C1339.8,677.2 1345.7,653.1 1347.1,654.3 C1348.5,655.5 1351.0,683.8 1352.2,685.8 C1353.4,687.8 1357.7,673.9 1359.0,673.9 C1360.3,673.9 1364.0,685.7 1365.0,685.8 C1366.0,685.9 1368.4,675.9 1369.2,674.8 C1370.0,673.7 1372.2,671.8 1372.6,674.8 C1373.0,677.8 1373.1,701.7 1373.5,705.1 C1373.9,708.5 1376.3,706.1 1376.9,708.5 C1377.5,710.9 1378.9,727.0 1379.4,729.0 C1379.9,731.0 1381.5,727.5 1382.0,729.0 C1382.5,730.5 1384.0,742.3 1384.5,744.3 C1385.0,746.3 1386.3,751.6 1387.1,748.6 C1387.9,745.6 1391.4,717.9 1392.2,714.5 C1393.0,711.1 1394.8,714.1 1395.6,714.5 C1396.4,714.9 1398.9,715.0 1399.9,718.7 C1400.9,722.4 1404.7,745.8 1405.8,751.1 C1406.9,756.4 1409.9,770.5 1411.0,771.5 C1412.1,772.5 1415.9,762.4 1416.9,761.3 C1417.9,760.2 1420.1,763.3 1421.2,760.5 C1422.3,757.7 1427.1,735.8 1428.0,733.2 C1428.9,730.6 1429.9,733.7 1430.5,734.9 C1431.1,736.1 1433.1,744.6 1434.0,745.1 C1434.9,745.6 1438.3,739.7 1439.1,740.0 C1439.9,740.3 1441.6,744.3 1442.4,748.1 C1443.2,751.9 1446.5,775.1 1447.2,778.2 C1447.9,781.3 1448.8,778.8 1449.6,779.4 C1450.4,780.0 1454.4,784.2 1455.6,784.2 C1456.8,784.2 1459.8,780.7 1461.6,779.4 C1463.4,778.1 1471.8,772.0 1473.7,770.9 C1475.6,769.8 1479.5,769.6 1480.9,768.5 C1482.3,767.4 1486.9,760.6 1488.1,760.1 C1489.3,759.6 1491.6,762.0 1492.9,763.7 C1494.2,765.5 1500.1,776.5 1501.3,777.6 C1502.5,778.7 1503.6,777.0 1504.9,774.5 C1506.2,772.0 1512.9,755.2 1514.5,752.9 C1516.1,750.6 1519.5,750.9 1520.6,751.1 C1521.7,751.3 1524.4,755.2 1525.4,755.3 C1526.4,755.4 1529.1,753.7 1530.2,751.7 C1531.3,749.7 1535.0,737.9 1536.2,734.9 C1537.4,731.9 1541.5,725.8 1542.2,721.6 C1543.0,717.4 1543.2,693.6 1543.7,692.7 C1544.2,691.8 1546.5,710.0 1547.3,712.5 C1548.1,715.0 1551.0,718.4 1551.8,717.9 C1552.6,717.4 1554.7,709.3 1555.4,707.1 C1556.1,704.9 1558.1,700.8 1559.0,696.3 C1559.9,691.8 1563.5,665.8 1564.5,662.0 C1565.5,658.2 1567.7,656.6 1569.0,658.4 C1570.3,660.2 1575.9,679.8 1577.1,680.0 C1578.3,680.2 1580.2,660.4 1580.7,660.2 C1581.2,660.0 1582.1,677.8 1582.5,678.2 C1582.9,678.6 1583.9,662.7 1584.3,663.8 C1584.7,664.9 1585.6,690.8 1586.1,689.0 C1586.6,687.2 1589.1,650.5 1589.7,645.8 C1590.3,641.1 1592.0,644.2 1592.4,642.2 C1592.9,640.2 1593.8,627.7 1594.2,625.9 C1594.7,624.1 1596.4,625.4 1596.9,624.1 C1597.4,622.8 1599.2,615.4 1599.6,613.3 C1600.0,611.2 1600.5,603.6 1600.9,603.4 C1601.3,603.2 1603.0,610.7 1603.2,611.5" fill="none" stroke="#c4aa7e" stroke-width="3.4" stroke-linejoin="round" stroke-linecap="round"/>
<path d="M1640.2,700.7 C1640.2,691.3 1640.0,613.8 1640.2,606.9 C1640.4,600.0 1642.1,632.7 1642.5,632.0 C1642.9,631.3 1644.0,597.5 1644.4,599.7 C1644.8,601.9 1645.8,648.6 1646.2,653.8 C1646.7,659.0 1648.5,657.2 1648.9,652.0 C1649.4,646.8 1650.2,606.7 1650.7,601.5 C1651.2,596.3 1653.0,599.2 1653.4,599.7 C1653.9,600.2 1654.7,601.3 1655.2,606.9 C1655.7,612.5 1658.1,654.2 1658.8,655.6 C1659.5,657.0 1661.8,621.7 1662.4,621.3 C1663.0,620.9 1664.5,652.7 1665.1,652.0 C1665.7,651.3 1667.8,613.7 1668.3,614.1 C1668.8,614.5 1670.1,654.7 1670.5,655.6 C1670.9,656.5 1671.8,622.6 1672.3,623.1 C1672.8,623.6 1674.4,662.6 1675.0,661.0 C1675.6,659.4 1677.9,606.9 1678.6,606.9 C1679.3,606.9 1681.5,661.9 1682.2,661.0 C1682.9,660.1 1685.1,600.2 1685.8,597.9 C1686.5,595.6 1688.8,637.9 1689.4,637.6 C1690.0,637.3 1691.6,599.9 1692.2,595.2 C1692.8,590.5 1695.3,592.1 1695.8,590.7 C1696.3,589.3 1697.2,575.5 1697.6,581.6 C1698.0,587.7 1699.0,649.6 1699.4,652.0 C1699.9,654.4 1701.4,610.3 1702.1,605.1 C1702.8,599.9 1705.2,600.7 1706.6,599.7 C1707.9,598.7 1713.9,595.9 1715.6,595.2 C1717.3,594.5 1722.8,592.3 1723.7,592.5 C1724.6,592.7 1724.1,597.5 1724.6,597.0 C1725.1,596.5 1728.5,586.6 1729.1,587.1 C1729.7,587.6 1730.4,602.0 1730.9,601.5 C1731.4,601.0 1733.9,582.1 1734.5,582.5 C1735.1,582.9 1736.6,598.0 1737.2,605.1 C1737.8,612.2 1740.0,652.9 1740.9,653.8 C1741.8,654.7 1745.0,620.6 1746.3,614.1 C1747.6,607.6 1753.1,588.0 1754.4,588.9 C1755.7,589.8 1758.1,619.1 1758.9,623.1 C1759.7,627.1 1761.4,629.8 1762.5,628.5 C1763.6,627.2 1768.5,613.2 1769.7,610.5 C1770.9,607.8 1773.6,600.8 1774.2,601.5 C1774.8,602.2 1775.4,617.0 1776.0,617.7 C1776.6,618.4 1779.0,610.1 1780.5,608.7 C1782.0,607.3 1789.8,603.9 1791.4,603.3 C1793.0,602.7 1794.3,602.3 1796.2,602.3 C1798.1,602.3 1808.1,603.2 1810.6,603.3 C1813.1,603.4 1818.6,603.6 1821.0,603.3 C1823.4,603.0 1832.8,599.2 1834.4,600.2 C1836.1,601.2 1837.0,613.6 1837.5,613.7 C1838.0,613.8 1838.5,602.8 1839.5,601.3 C1840.5,599.8 1846.6,598.0 1847.8,599.2 C1849.0,600.4 1850.9,613.1 1851.9,613.7 C1852.9,614.3 1857.5,606.2 1858.1,605.4" fill="none" stroke="#c4aa7e" stroke-width="3.4" stroke-linejoin="round" stroke-linecap="round"/>
<path d="M1858.1,605.4 C1858.8,608.1 1861.2,616.0 1862.2,621.9 C1863.2,627.8 1863.4,641.9 1864.3,640.5 C1865.2,639.1 1866.4,615.1 1867.4,613.7 C1868.4,612.3 1869.5,621.9 1870.5,632.2 C1871.5,642.5 1872.6,674.6 1873.6,675.6 C1874.6,676.6 1875.7,637.0 1876.7,638.4 C1877.7,639.8 1878.6,683.1 1879.8,683.8 C1881.0,684.5 1882.7,645.0 1883.9,642.6 C1885.1,640.2 1886.0,675.4 1887.0,669.4 C1888.0,663.4 1889.1,604.7 1890.1,606.4 C1891.1,608.1 1892.0,672.0 1893.2,679.7 C1894.4,687.5 1896.1,652.5 1897.3,652.9 C1898.5,653.2 1899.4,680.4 1900.4,681.8 C1901.4,683.2 1902.3,662.8 1903.5,661.1 C1904.7,659.4 1906.2,672.2 1907.6,671.5 C1909.0,670.8 1909.4,663.5 1911.8,657.0 C1914.2,650.5 1919.7,635.6 1922.1,632.2 C1924.5,628.8 1924.5,639.7 1926.2,636.4 C1927.9,633.1 1930.7,615.4 1932.4,612.6 C1934.1,609.9 1935.0,622.3 1936.5,619.9 C1938.0,617.5 1940.0,600.5 1941.7,598.2 C1943.4,596.0 1945.2,606.8 1946.9,606.4 C1948.6,606.0 1950.0,597.5 1952.0,596.1 C1954.0,594.7 1956.6,597.5 1959.2,598.2 C1961.8,598.9 1965.7,599.7 1967.5,600.2 C1969.3,600.7 1969.6,600.9 1970.0,601.0" fill="none" stroke="#c4aa7e" stroke-width="3.5" stroke-linejoin="round" stroke-linecap="round"/>
<line x1="1299" y1="575.6" x2="1299" y2="910.8" stroke="#000" stroke-width="2.6"/>
<line x1="1970.3" y1="575.6" x2="1970.3" y2="910.8" stroke="#000" stroke-width="2.6"/>
<line x1="1294" y1="909.6" x2="1623.6" y2="909.6" stroke="#000" stroke-width="2.6"/>
<line x1="1642.3" y1="909.6" x2="1971.6" y2="909.6" stroke="#000" stroke-width="2.6"/>
<line x1="1293.8" y1="909.6" x2="1299" y2="909.6" stroke="#000" stroke-width="2.2"/>
<line x1="1970.3" y1="909.6" x2="1974.6" y2="909.6" stroke="#000" stroke-width="2.2"/>
<line x1="1293.8" y1="826.4" x2="1299" y2="826.4" stroke="#000" stroke-width="2.2"/>
<line x1="1970.3" y1="826.4" x2="1974.6" y2="826.4" stroke="#000" stroke-width="2.2"/>
<line x1="1293.8" y1="743.1" x2="1299" y2="743.1" stroke="#000" stroke-width="2.2"/>
<line x1="1970.3" y1="743.1" x2="1974.6" y2="743.1" stroke="#000" stroke-width="2.2"/>
<line x1="1293.8" y1="659.9" x2="1299" y2="659.9" stroke="#000" stroke-width="2.2"/>
<line x1="1970.3" y1="659.9" x2="1974.6" y2="659.9" stroke="#000" stroke-width="2.2"/>
<line x1="1293.8" y1="576.6" x2="1299" y2="576.6" stroke="#000" stroke-width="2.2"/>
<line x1="1970.3" y1="576.6" x2="1974.6" y2="576.6" stroke="#000" stroke-width="2.2"/>
<line x1="1328.0" y1="909.6" x2="1328.0" y2="914.2" stroke="#000" stroke-width="2.2"/>
<line x1="1426.0" y1="909.6" x2="1426.0" y2="914.2" stroke="#000" stroke-width="2.2"/>
<line x1="1572.1" y1="909.6" x2="1572.1" y2="914.2" stroke="#000" stroke-width="2.2"/>
<line x1="1665.1" y1="909.6" x2="1665.1" y2="914.2" stroke="#000" stroke-width="2.2"/>
<line x1="1741.1" y1="909.6" x2="1741.1" y2="914.2" stroke="#000" stroke-width="2.2"/>
<line x1="1836.1" y1="909.6" x2="1836.1" y2="914.2" stroke="#000" stroke-width="2.2"/>
<line x1="1969.1" y1="909.6" x2="1969.1" y2="914.2" stroke="#000" stroke-width="2.2"/>
<text x="1235.13" y="590.50" font-size="37.7" fill="#000" textLength="49.52" lengthAdjust="spacingAndGlyphs">1.0</text>
<text x="1214.86" y="673.80" font-size="37.7" fill="#000" textLength="70.03" lengthAdjust="spacingAndGlyphs">0.75</text>
<text x="1234.52" y="757.30" font-size="37.7" fill="#000" textLength="51.36" lengthAdjust="spacingAndGlyphs">0.5</text>
<text x="1214.94" y="839.70" font-size="37.7" fill="#000" textLength="70.97" lengthAdjust="spacingAndGlyphs">0.25</text>
<text x="1265.05" y="921.50" font-size="37.7" fill="#000" textLength="20.16" lengthAdjust="spacingAndGlyphs">0</text>
<text x="1295.35" y="949.30" font-size="37.7" fill="#000" textLength="70.55" lengthAdjust="spacingAndGlyphs">0.38</text>
<text x="1392.66" y="949.30" font-size="37.7" fill="#000" textLength="70.28" lengthAdjust="spacingAndGlyphs">0.74</text>
<text x="1562.62" y="949.30" font-size="37.7" fill="#000" textLength="22.00" lengthAdjust="spacingAndGlyphs">2</text>
<text x="1656.30" y="949.50" font-size="37.7" fill="#000" textLength="19.60" lengthAdjust="spacingAndGlyphs">4</text>
<text x="1732.79" y="949.40" font-size="37.7" fill="#000" textLength="21.18" lengthAdjust="spacingAndGlyphs">8</text>
<text x="1818.31" y="949.40" font-size="37.7" fill="#000" textLength="39.91" lengthAdjust="spacingAndGlyphs">13</text>
<text x="1949.37" y="949.40" font-size="37.7" fill="#000" textLength="40.70" lengthAdjust="spacingAndGlyphs">20</text>
<line x1="1620" y1="589.5" x2="1629.4" y2="564.9" stroke="#000" stroke-width="2.2"/>
<line x1="1634" y1="589.5" x2="1643.8" y2="564.9" stroke="#000" stroke-width="2.2"/>
<line x1="1619.5" y1="921.1" x2="1630.3" y2="896.8" stroke="#000" stroke-width="2.2"/>
<line x1="1633.8" y1="921.1" x2="1644.4" y2="896.8" stroke="#000" stroke-width="2.2"/>
<text x="1509.82" y="984.00" font-size="38.5" fill="#000" textLength="270.58" lengthAdjust="spacingAndGlyphs">Wavelength (μm)</text>
<text transform="translate(1197,941.1) rotate(-90)" x="0" y="0" font-size="38.5" textLength="391.8" lengthAdjust="spacingAndGlyphs">Absorptance (emittance)</text>
</svg></body></html>
